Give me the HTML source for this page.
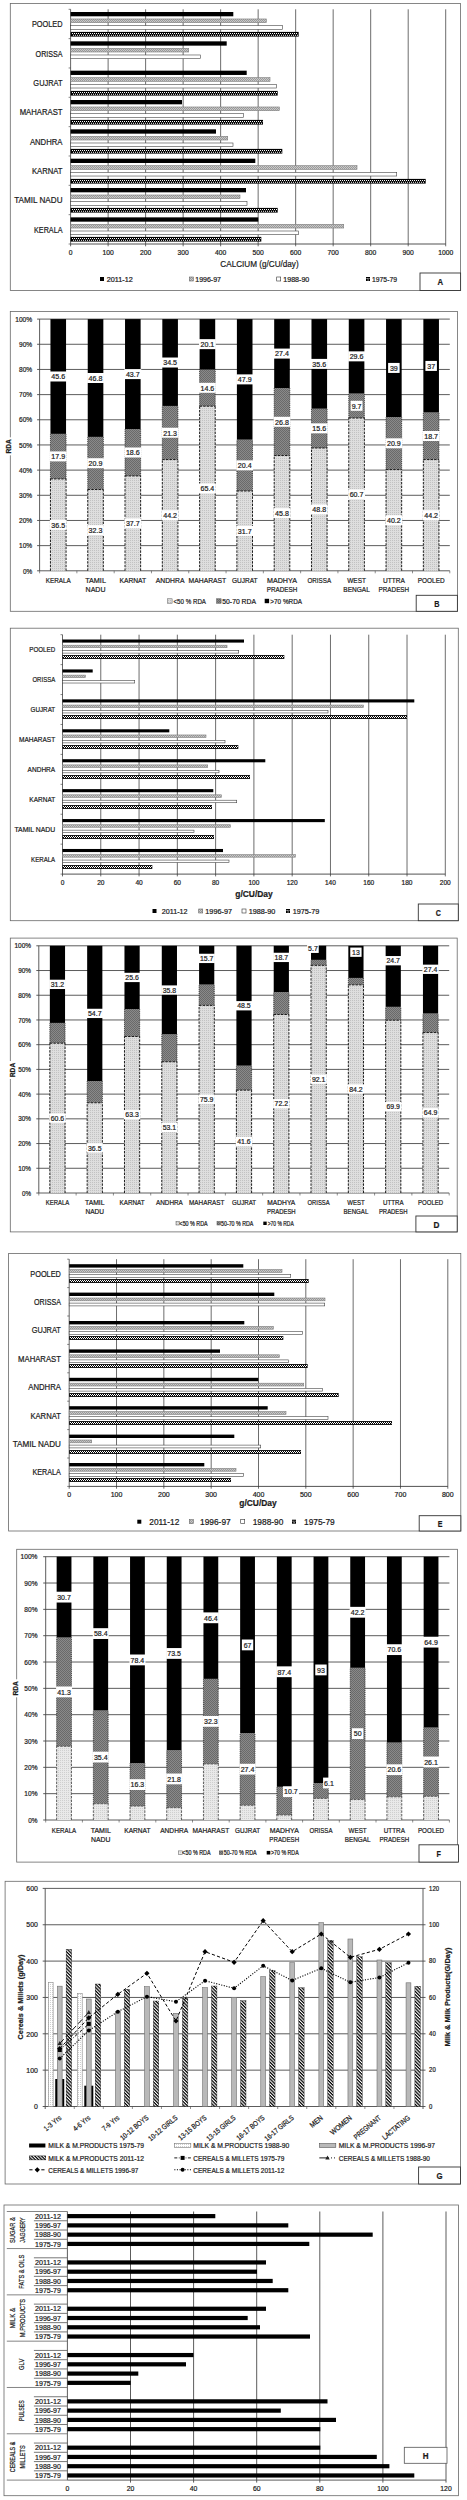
<!DOCTYPE html>
<html lang="en"><head><meta charset="utf-8"><title>Figure panels A-H</title>
<style>html,body{margin:0;padding:0;background:#fff}svg{display:block}text{font-family:"Liberation Sans",sans-serif;stroke:#1a1a1a;stroke-width:.22px}</style>
</head><body>
<svg width="467" height="2500" viewBox="0 0 467 2500">
<defs>
<pattern id="pg" width="2" height="2" patternUnits="userSpaceOnUse"><rect width="2" height="2" fill="#c9c9c9"/><rect width="1" height="1" fill="#9a9a9a"/><rect x="1" y="1" width="1" height="1" fill="#9a9a9a"/></pattern>
<pattern id="pl" width="2" height="2" patternUnits="userSpaceOnUse"><rect width="2" height="2" fill="#dedede"/><rect width="1" height="1" fill="#c2c2c2"/></pattern>
<pattern id="pf" width="2" height="2" patternUnits="userSpaceOnUse"><rect width="2" height="2" fill="#e9e9e9"/><rect width="1" height="1" fill="#cfcfcf"/></pattern>
<pattern id="pm" width="2" height="2" patternUnits="userSpaceOnUse"><rect width="2" height="2" fill="#8a8a8a"/><rect width="1" height="1" fill="#6a6a6a"/><rect x="1" y="1" width="1" height="1" fill="#6a6a6a"/></pattern>
<pattern id="ph" width="2.35" height="2.35" patternUnits="userSpaceOnUse" patternTransform="rotate(45)"><rect width="2.35" height="2.35" fill="#fff"/><rect width="2.35" height="1.25" fill="#000"/></pattern>
<pattern id="pw" width="2" height="2" patternUnits="userSpaceOnUse"><rect width="2" height="2" fill="#fff"/><rect width="1" height="1" fill="#d0d0d0"/></pattern>
</defs>
<rect width="467" height="2500" fill="#fff"/>
<g>
<rect x="10.3" y="3.4" width="450.3" height="287.1" fill="#fff" stroke="#686868" stroke-width="0.8"/>
<line x1="70.6" y1="9.3" x2="70.6" y2="246.3" stroke="#333" stroke-width="0.75"/>
<text x="68.72" y="255.33" font-size="7.4" textLength="3.75" lengthAdjust="spacingAndGlyphs" fill="#1a1a1a">0</text>
<line x1="108.11" y1="9.3" x2="108.11" y2="246.3" stroke="#3c3c3c" stroke-width="0.75"/>
<text x="102.48" y="255.33" font-size="7.4" textLength="11.26" lengthAdjust="spacingAndGlyphs" fill="#1a1a1a">100</text>
<line x1="145.62" y1="9.3" x2="145.62" y2="246.3" stroke="#3c3c3c" stroke-width="0.75"/>
<text x="139.99" y="255.33" font-size="7.4" textLength="11.26" lengthAdjust="spacingAndGlyphs" fill="#1a1a1a">200</text>
<line x1="183.13" y1="9.3" x2="183.13" y2="246.3" stroke="#3c3c3c" stroke-width="0.75"/>
<text x="177.5" y="255.33" font-size="7.4" textLength="11.26" lengthAdjust="spacingAndGlyphs" fill="#1a1a1a">300</text>
<line x1="220.64" y1="9.3" x2="220.64" y2="246.3" stroke="#3c3c3c" stroke-width="0.75"/>
<text x="215.01" y="255.33" font-size="7.4" textLength="11.26" lengthAdjust="spacingAndGlyphs" fill="#1a1a1a">400</text>
<line x1="258.15" y1="9.3" x2="258.15" y2="246.3" stroke="#3c3c3c" stroke-width="0.75"/>
<text x="252.52" y="255.33" font-size="7.4" textLength="11.26" lengthAdjust="spacingAndGlyphs" fill="#1a1a1a">500</text>
<line x1="295.66" y1="9.3" x2="295.66" y2="246.3" stroke="#3c3c3c" stroke-width="0.75"/>
<text x="290.03" y="255.33" font-size="7.4" textLength="11.26" lengthAdjust="spacingAndGlyphs" fill="#1a1a1a">600</text>
<line x1="333.17" y1="9.3" x2="333.17" y2="246.3" stroke="#3c3c3c" stroke-width="0.75"/>
<text x="327.54" y="255.33" font-size="7.4" textLength="11.26" lengthAdjust="spacingAndGlyphs" fill="#1a1a1a">700</text>
<line x1="370.68" y1="9.3" x2="370.68" y2="246.3" stroke="#3c3c3c" stroke-width="0.75"/>
<text x="365.05" y="255.33" font-size="7.4" textLength="11.26" lengthAdjust="spacingAndGlyphs" fill="#1a1a1a">800</text>
<line x1="408.19" y1="9.3" x2="408.19" y2="246.3" stroke="#3c3c3c" stroke-width="0.75"/>
<text x="402.56" y="255.33" font-size="7.4" textLength="11.26" lengthAdjust="spacingAndGlyphs" fill="#1a1a1a">900</text>
<line x1="445.7" y1="9.3" x2="445.7" y2="246.3" stroke="#3c3c3c" stroke-width="0.75"/>
<text x="438.2" y="255.33" font-size="7.4" textLength="15.01" lengthAdjust="spacingAndGlyphs" fill="#1a1a1a">1000</text>
<line x1="70.6" y1="244" x2="445.7" y2="244" stroke="#333" stroke-width="0.85"/>
<line x1="68.6" y1="9.3" x2="70.6" y2="9.3" stroke="#333" stroke-width="0.6"/>
<line x1="68.6" y1="38.64" x2="70.6" y2="38.64" stroke="#333" stroke-width="0.6"/>
<line x1="68.6" y1="67.97" x2="70.6" y2="67.97" stroke="#333" stroke-width="0.6"/>
<line x1="68.6" y1="97.31" x2="70.6" y2="97.31" stroke="#333" stroke-width="0.6"/>
<line x1="68.6" y1="126.65" x2="70.6" y2="126.65" stroke="#333" stroke-width="0.6"/>
<line x1="68.6" y1="155.99" x2="70.6" y2="155.99" stroke="#333" stroke-width="0.6"/>
<line x1="68.6" y1="185.32" x2="70.6" y2="185.32" stroke="#333" stroke-width="0.6"/>
<line x1="68.6" y1="214.66" x2="70.6" y2="214.66" stroke="#333" stroke-width="0.6"/>
<line x1="68.6" y1="244" x2="70.6" y2="244" stroke="#333" stroke-width="0.6"/>
<text x="31.89" y="27.2" font-size="9.1" textLength="30.61" lengthAdjust="spacingAndGlyphs" fill="#1a1a1a">POOLED</text>
<rect x="70.6" y="12" width="162.7" height="4.3" fill="#000"/>
<rect x="70.6" y="18.97" width="195.7" height="3.7" fill="url(#pg)" stroke="#7d7d7d" stroke-width="0.6"/>
<rect x="70.6" y="25.64" width="211.8" height="3.7" fill="#fff" stroke="#444" stroke-width="0.6"/>
<rect x="70.6" y="31.9" width="228.1" height="4.7" fill="#000"/>
<path d="M72 33.45H298.1 M73 35.3H298.1" stroke="#fff" stroke-width="1.1" stroke-dasharray="1 1" fill="none"/>
<text x="35.62" y="56.54" font-size="9.1" textLength="26.88" lengthAdjust="spacingAndGlyphs" fill="#1a1a1a">ORISSA</text>
<rect x="70.6" y="41.34" width="156.1" height="4.3" fill="#000"/>
<rect x="70.6" y="48.31" width="118.1" height="3.7" fill="url(#pg)" stroke="#7d7d7d" stroke-width="0.6"/>
<rect x="70.6" y="54.98" width="129.8" height="3.7" fill="#fff" stroke="#444" stroke-width="0.6"/>
<text x="33.37" y="85.87" font-size="9.1" textLength="29.13" lengthAdjust="spacingAndGlyphs" fill="#1a1a1a">GUJRAT</text>
<rect x="70.6" y="70.67" width="176.1" height="4.3" fill="#000"/>
<rect x="70.6" y="77.64" width="199.4" height="3.7" fill="url(#pg)" stroke="#7d7d7d" stroke-width="0.6"/>
<rect x="70.6" y="84.31" width="205.8" height="3.7" fill="#fff" stroke="#444" stroke-width="0.6"/>
<rect x="70.6" y="90.9" width="207.1" height="4.7" fill="#000"/>
<path d="M72 92.45H277.1 M73 94.3H277.1" stroke="#fff" stroke-width="1.1" stroke-dasharray="1 1" fill="none"/>
<text x="19.69" y="115.21" font-size="9.1" textLength="42.81" lengthAdjust="spacingAndGlyphs" fill="#1a1a1a">MAHARAST</text>
<rect x="70.6" y="100.01" width="111.4" height="4.3" fill="#000"/>
<rect x="70.6" y="106.98" width="208.7" height="3.7" fill="url(#pg)" stroke="#7d7d7d" stroke-width="0.6"/>
<rect x="70.6" y="113.65" width="172.8" height="3.7" fill="#fff" stroke="#444" stroke-width="0.6"/>
<rect x="70.6" y="119.9" width="192.4" height="4.7" fill="#000"/>
<path d="M72 121.45H262.4 M73 123.3H262.4" stroke="#fff" stroke-width="1.1" stroke-dasharray="1 1" fill="none"/>
<text x="29.88" y="144.55" font-size="9.1" textLength="32.62" lengthAdjust="spacingAndGlyphs" fill="#1a1a1a">ANDHRA</text>
<rect x="70.6" y="129.35" width="145.4" height="4.3" fill="#000"/>
<rect x="70.6" y="136.32" width="157.1" height="3.7" fill="url(#pg)" stroke="#7d7d7d" stroke-width="0.6"/>
<rect x="70.6" y="142.99" width="162.4" height="3.7" fill="#fff" stroke="#444" stroke-width="0.6"/>
<rect x="70.6" y="148.9" width="211.7" height="4.7" fill="#000"/>
<path d="M72 150.45H281.7 M73 152.3H281.7" stroke="#fff" stroke-width="1.1" stroke-dasharray="1 1" fill="none"/>
<text x="31.98" y="173.89" font-size="9.1" textLength="30.52" lengthAdjust="spacingAndGlyphs" fill="#1a1a1a">KARNAT</text>
<rect x="70.6" y="158.69" width="184.7" height="4.3" fill="#000"/>
<rect x="70.6" y="165.66" width="286.4" height="3.7" fill="url(#pg)" stroke="#7d7d7d" stroke-width="0.6"/>
<rect x="70.6" y="172.33" width="326.1" height="3.7" fill="#fff" stroke="#444" stroke-width="0.6"/>
<rect x="70.6" y="178.9" width="355.1" height="4.7" fill="#000"/>
<path d="M72 180.45H425.1 M73 182.3H425.1" stroke="#fff" stroke-width="1.1" stroke-dasharray="1 1" fill="none"/>
<text x="14.26" y="203.22" font-size="9.1" textLength="48.24" lengthAdjust="spacingAndGlyphs" fill="#1a1a1a">TAMIL NADU</text>
<rect x="70.6" y="188.02" width="175.4" height="4.3" fill="#000"/>
<rect x="70.6" y="194.99" width="169.4" height="3.7" fill="url(#pg)" stroke="#7d7d7d" stroke-width="0.6"/>
<rect x="70.6" y="201.66" width="176.4" height="3.7" fill="#fff" stroke="#444" stroke-width="0.6"/>
<rect x="70.6" y="207.9" width="207.1" height="4.7" fill="#000"/>
<path d="M72 209.45H277.1 M73 211.3H277.1" stroke="#fff" stroke-width="1.1" stroke-dasharray="1 1" fill="none"/>
<text x="34.03" y="232.56" font-size="9.1" textLength="28.47" lengthAdjust="spacingAndGlyphs" fill="#1a1a1a">KERALA</text>
<rect x="70.6" y="217.36" width="187.7" height="4.3" fill="#000"/>
<rect x="70.6" y="224.33" width="273.1" height="3.7" fill="url(#pg)" stroke="#7d7d7d" stroke-width="0.6"/>
<rect x="70.6" y="231" width="227.8" height="3.7" fill="#fff" stroke="#444" stroke-width="0.6"/>
<rect x="70.6" y="236.9" width="190.7" height="4.7" fill="#000"/>
<path d="M72 238.45H260.7 M73 240.3H260.7" stroke="#fff" stroke-width="1.1" stroke-dasharray="1 1" fill="none"/>
<text x="220.35" y="266.57" font-size="9.2" textLength="78.3" lengthAdjust="spacingAndGlyphs" fill="#1a1a1a">CALCIUM (g/CU/day)</text>
<rect x="100" y="277" width="4" height="4" fill="#000"/>
<text x="106.7" y="281.7" font-size="7.6" textLength="26" lengthAdjust="spacingAndGlyphs" fill="#1a1a1a">2011-12</text>
<rect x="189.3" y="277" width="4" height="4" fill="url(#pg)" stroke="#666" stroke-width="0.6"/>
<text x="195.3" y="281.7" font-size="7.6" textLength="25.7" lengthAdjust="spacingAndGlyphs" fill="#1a1a1a">1996-97</text>
<rect x="276.7" y="277" width="4" height="4" fill="#fff" stroke="#333" stroke-width="0.6"/>
<text x="283.3" y="281.7" font-size="7.6" textLength="26" lengthAdjust="spacingAndGlyphs" fill="#1a1a1a">1988-90</text>
<rect x="366" y="277" width="4" height="4" fill="#000"/>
<path d="M366.6 278.5h2.8 M367.6 280h1.8" stroke="#fff" stroke-width="1" stroke-dasharray="1 1" fill="none"/>
<text x="372" y="281.7" font-size="7.6" textLength="25" lengthAdjust="spacingAndGlyphs" fill="#1a1a1a">1975-79</text>
<rect x="420" y="273" width="40.6" height="17.5" fill="#fff" stroke="#333" stroke-width="0.9"/>
<text x="437.51" y="285.35" font-size="9.3" font-weight="bold" textLength="5.57" lengthAdjust="spacingAndGlyphs" fill="#1a1a1a">A</text>
</g>
<g>
<rect x="10.3" y="311.5" width="447.1" height="299.8" fill="#fff" stroke="#686868" stroke-width="0.8"/>
<line x1="37.1" y1="570.8" x2="449.8" y2="570.8" stroke="#4a4a4a" stroke-width="0.9"/>
<text x="22.91" y="573.5" font-size="7.6" textLength="9.29" lengthAdjust="spacingAndGlyphs" fill="#1a1a1a">0%</text>
<line x1="37.1" y1="545.63" x2="449.8" y2="545.63" stroke="#4a4a4a" stroke-width="0.9"/>
<text x="19.06" y="548.33" font-size="7.6" textLength="13.14" lengthAdjust="spacingAndGlyphs" fill="#1a1a1a">10%</text>
<line x1="37.1" y1="520.46" x2="449.8" y2="520.46" stroke="#4a4a4a" stroke-width="0.9"/>
<text x="19.06" y="523.16" font-size="7.6" textLength="13.14" lengthAdjust="spacingAndGlyphs" fill="#1a1a1a">20%</text>
<line x1="37.1" y1="495.29" x2="449.8" y2="495.29" stroke="#4a4a4a" stroke-width="0.9"/>
<text x="19.06" y="497.99" font-size="7.6" textLength="13.14" lengthAdjust="spacingAndGlyphs" fill="#1a1a1a">30%</text>
<line x1="37.1" y1="470.12" x2="449.8" y2="470.12" stroke="#4a4a4a" stroke-width="0.9"/>
<text x="19.06" y="472.82" font-size="7.6" textLength="13.14" lengthAdjust="spacingAndGlyphs" fill="#1a1a1a">40%</text>
<line x1="37.1" y1="444.95" x2="449.8" y2="444.95" stroke="#4a4a4a" stroke-width="0.9"/>
<text x="19.06" y="447.65" font-size="7.6" textLength="13.14" lengthAdjust="spacingAndGlyphs" fill="#1a1a1a">50%</text>
<line x1="37.1" y1="419.78" x2="449.8" y2="419.78" stroke="#4a4a4a" stroke-width="0.9"/>
<text x="19.06" y="422.48" font-size="7.6" textLength="13.14" lengthAdjust="spacingAndGlyphs" fill="#1a1a1a">60%</text>
<line x1="37.1" y1="394.61" x2="449.8" y2="394.61" stroke="#4a4a4a" stroke-width="0.9"/>
<text x="19.06" y="397.31" font-size="7.6" textLength="13.14" lengthAdjust="spacingAndGlyphs" fill="#1a1a1a">70%</text>
<line x1="37.1" y1="369.44" x2="449.8" y2="369.44" stroke="#4a4a4a" stroke-width="0.9"/>
<text x="19.06" y="372.14" font-size="7.6" textLength="13.14" lengthAdjust="spacingAndGlyphs" fill="#1a1a1a">80%</text>
<line x1="37.1" y1="344.27" x2="449.8" y2="344.27" stroke="#4a4a4a" stroke-width="0.9"/>
<text x="19.06" y="346.97" font-size="7.6" textLength="13.14" lengthAdjust="spacingAndGlyphs" fill="#1a1a1a">90%</text>
<line x1="37.1" y1="319.1" x2="449.8" y2="319.1" stroke="#4a4a4a" stroke-width="0.9"/>
<text x="15.21" y="321.8" font-size="7.6" textLength="16.99" lengthAdjust="spacingAndGlyphs" fill="#1a1a1a">100%</text>
<line x1="39.6" y1="319.1" x2="39.6" y2="570.8" stroke="#4a4a4a" stroke-width="0.9"/>
<line x1="39.6" y1="570.8" x2="39.6" y2="573.3" stroke="#444" stroke-width="0.6"/>
<line x1="76.89" y1="570.8" x2="76.89" y2="573.3" stroke="#444" stroke-width="0.6"/>
<line x1="114.18" y1="570.8" x2="114.18" y2="573.3" stroke="#444" stroke-width="0.6"/>
<line x1="151.47" y1="570.8" x2="151.47" y2="573.3" stroke="#444" stroke-width="0.6"/>
<line x1="188.76" y1="570.8" x2="188.76" y2="573.3" stroke="#444" stroke-width="0.6"/>
<line x1="226.05" y1="570.8" x2="226.05" y2="573.3" stroke="#444" stroke-width="0.6"/>
<line x1="263.35" y1="570.8" x2="263.35" y2="573.3" stroke="#444" stroke-width="0.6"/>
<line x1="300.64" y1="570.8" x2="300.64" y2="573.3" stroke="#444" stroke-width="0.6"/>
<line x1="337.93" y1="570.8" x2="337.93" y2="573.3" stroke="#444" stroke-width="0.6"/>
<line x1="375.22" y1="570.8" x2="375.22" y2="573.3" stroke="#444" stroke-width="0.6"/>
<line x1="412.51" y1="570.8" x2="412.51" y2="573.3" stroke="#444" stroke-width="0.6"/>
<line x1="449.8" y1="570.8" x2="449.8" y2="573.3" stroke="#444" stroke-width="0.6"/>
<rect x="50.45" y="478.93" width="15.6" height="91.87" fill="url(#pl)"/>
<rect x="50.45" y="433.88" width="15.6" height="45.05" fill="url(#pm)"/>
<path d="M50.45 570.8V478.93M66.05 570.8V478.93M50.45 478.93H66.05" fill="none" stroke="#111" stroke-width="0.95" stroke-dasharray="2.4 1.2"/>
<path d="M50.45 478.93V433.88M66.05 478.93V433.88" fill="none" stroke="#222" stroke-width="0.8" stroke-dasharray="1 0.9"/>
<rect x="50.45" y="319.1" width="15.6" height="114.78" fill="#000"/>
<rect x="49.85" y="519.86" width="16.8" height="10" fill="#fff"/>
<text x="51.33" y="527.63" font-size="7.8" textLength="13.83" lengthAdjust="spacingAndGlyphs" fill="#1a1a1a">36.5</text>
<rect x="49.85" y="451.4" width="16.8" height="10" fill="#fff"/>
<text x="51.33" y="459.17" font-size="7.8" textLength="13.83" lengthAdjust="spacingAndGlyphs" fill="#1a1a1a">17.9</text>
<rect x="49.85" y="371.49" width="16.8" height="10" fill="#fff"/>
<text x="51.33" y="379.26" font-size="7.8" textLength="13.83" lengthAdjust="spacingAndGlyphs" fill="#1a1a1a">45.6</text>
<text x="45.73" y="582.84" font-size="8" textLength="25.03" lengthAdjust="spacingAndGlyphs" fill="#1a1a1a">KERALA</text>
<rect x="87.74" y="489.5" width="15.6" height="81.3" fill="url(#pl)"/>
<rect x="87.74" y="436.9" width="15.6" height="52.61" fill="url(#pm)"/>
<path d="M87.74 570.8V489.5M103.34 570.8V489.5M87.74 489.5H103.34" fill="none" stroke="#111" stroke-width="0.95" stroke-dasharray="2.4 1.2"/>
<path d="M87.74 489.5V436.9M103.34 489.5V436.9" fill="none" stroke="#222" stroke-width="0.8" stroke-dasharray="1 0.9"/>
<rect x="87.74" y="319.1" width="15.6" height="117.8" fill="#000"/>
<rect x="87.14" y="525.15" width="16.8" height="10" fill="#fff"/>
<text x="88.62" y="532.92" font-size="7.8" textLength="13.83" lengthAdjust="spacingAndGlyphs" fill="#1a1a1a">32.3</text>
<rect x="87.14" y="458.2" width="16.8" height="10" fill="#fff"/>
<text x="88.62" y="465.97" font-size="7.8" textLength="13.83" lengthAdjust="spacingAndGlyphs" fill="#1a1a1a">20.9</text>
<rect x="87.14" y="373" width="16.8" height="10" fill="#fff"/>
<text x="88.62" y="380.77" font-size="7.8" textLength="13.83" lengthAdjust="spacingAndGlyphs" fill="#1a1a1a">46.8</text>
<text x="85.16" y="582.84" font-size="8" textLength="20.74" lengthAdjust="spacingAndGlyphs" fill="#1a1a1a">TAMIL</text>
<text x="85.61" y="591.64" font-size="8" textLength="19.86" lengthAdjust="spacingAndGlyphs" fill="#1a1a1a">NADU</text>
<rect x="125.03" y="475.91" width="15.6" height="94.89" fill="url(#pl)"/>
<rect x="125.03" y="429.09" width="15.6" height="46.82" fill="url(#pm)"/>
<path d="M125.03 570.8V475.91M140.63 570.8V475.91M125.03 475.91H140.63" fill="none" stroke="#111" stroke-width="0.95" stroke-dasharray="2.4 1.2"/>
<path d="M125.03 475.91V429.09M140.63 475.91V429.09" fill="none" stroke="#222" stroke-width="0.8" stroke-dasharray="1 0.9"/>
<rect x="125.03" y="319.1" width="15.6" height="109.99" fill="#000"/>
<rect x="124.43" y="518.35" width="16.8" height="10" fill="#fff"/>
<text x="125.91" y="526.12" font-size="7.8" textLength="13.83" lengthAdjust="spacingAndGlyphs" fill="#1a1a1a">37.7</text>
<rect x="124.43" y="447.5" width="16.8" height="10" fill="#fff"/>
<text x="125.91" y="455.27" font-size="7.8" textLength="13.83" lengthAdjust="spacingAndGlyphs" fill="#1a1a1a">18.6</text>
<rect x="124.43" y="369.1" width="16.8" height="10" fill="#fff"/>
<text x="125.91" y="376.87" font-size="7.8" textLength="13.83" lengthAdjust="spacingAndGlyphs" fill="#1a1a1a">43.7</text>
<text x="119.41" y="582.84" font-size="8" textLength="26.83" lengthAdjust="spacingAndGlyphs" fill="#1a1a1a">KARNAT</text>
<rect x="162.32" y="459.55" width="15.6" height="111.25" fill="url(#pl)"/>
<rect x="162.32" y="405.94" width="15.6" height="53.61" fill="url(#pm)"/>
<path d="M162.32 570.8V459.55M177.92 570.8V459.55M162.32 459.55H177.92" fill="none" stroke="#111" stroke-width="0.95" stroke-dasharray="2.4 1.2"/>
<path d="M162.32 459.55V405.94M177.92 459.55V405.94" fill="none" stroke="#222" stroke-width="0.8" stroke-dasharray="1 0.9"/>
<rect x="162.32" y="319.1" width="15.6" height="86.84" fill="#000"/>
<rect x="161.72" y="510.17" width="16.8" height="10" fill="#fff"/>
<text x="163.2" y="517.94" font-size="7.8" textLength="13.83" lengthAdjust="spacingAndGlyphs" fill="#1a1a1a">44.2</text>
<rect x="161.72" y="427.74" width="16.8" height="10" fill="#fff"/>
<text x="163.2" y="435.51" font-size="7.8" textLength="13.83" lengthAdjust="spacingAndGlyphs" fill="#1a1a1a">21.3</text>
<rect x="161.72" y="357.52" width="16.8" height="10" fill="#fff"/>
<text x="163.2" y="365.29" font-size="7.8" textLength="13.83" lengthAdjust="spacingAndGlyphs" fill="#1a1a1a">34.5</text>
<text x="155.78" y="582.84" font-size="8" textLength="28.68" lengthAdjust="spacingAndGlyphs" fill="#1a1a1a">ANDHRA</text>
<rect x="199.61" y="406.19" width="15.6" height="164.61" fill="url(#pl)"/>
<rect x="199.61" y="369.44" width="15.6" height="36.75" fill="url(#pm)"/>
<path d="M199.61 570.8V406.19M215.21 570.8V406.19M199.61 406.19H215.21" fill="none" stroke="#111" stroke-width="0.95" stroke-dasharray="2.4 1.2"/>
<path d="M199.61 406.19V369.44M215.21 406.19V369.44" fill="none" stroke="#222" stroke-width="0.8" stroke-dasharray="1 0.9"/>
<rect x="199.61" y="319.1" width="15.6" height="50.34" fill="#000"/>
<rect x="199.01" y="483.49" width="16.8" height="10" fill="#fff"/>
<text x="200.49" y="491.26" font-size="7.8" textLength="13.83" lengthAdjust="spacingAndGlyphs" fill="#1a1a1a">65.4</text>
<rect x="199.01" y="382.81" width="16.8" height="10" fill="#fff"/>
<text x="200.49" y="390.58" font-size="7.8" textLength="13.83" lengthAdjust="spacingAndGlyphs" fill="#1a1a1a">14.6</text>
<rect x="199.01" y="339.14" width="16.8" height="10" fill="#fff"/>
<text x="200.49" y="346.91" font-size="7.8" textLength="13.83" lengthAdjust="spacingAndGlyphs" fill="#1a1a1a">20.1</text>
<text x="188.59" y="582.84" font-size="8" textLength="37.63" lengthAdjust="spacingAndGlyphs" fill="#1a1a1a">MAHARAST</text>
<rect x="236.9" y="491.01" width="15.6" height="79.79" fill="url(#pl)"/>
<rect x="236.9" y="439.66" width="15.6" height="51.35" fill="url(#pm)"/>
<path d="M236.9 570.8V491.01M252.5 570.8V491.01M236.9 491.01H252.5" fill="none" stroke="#111" stroke-width="0.95" stroke-dasharray="2.4 1.2"/>
<path d="M236.9 491.01V439.66M252.5 491.01V439.66" fill="none" stroke="#222" stroke-width="0.8" stroke-dasharray="1 0.9"/>
<rect x="236.9" y="319.1" width="15.6" height="120.56" fill="#000"/>
<rect x="236.3" y="525.91" width="16.8" height="10" fill="#fff"/>
<text x="237.79" y="533.67" font-size="7.8" textLength="13.83" lengthAdjust="spacingAndGlyphs" fill="#1a1a1a">31.7</text>
<rect x="236.3" y="460.34" width="16.8" height="10" fill="#fff"/>
<text x="237.79" y="468.11" font-size="7.8" textLength="13.83" lengthAdjust="spacingAndGlyphs" fill="#1a1a1a">20.4</text>
<rect x="236.3" y="374.38" width="16.8" height="10" fill="#fff"/>
<text x="237.79" y="382.15" font-size="7.8" textLength="13.83" lengthAdjust="spacingAndGlyphs" fill="#1a1a1a">47.9</text>
<text x="231.9" y="582.84" font-size="8" textLength="25.61" lengthAdjust="spacingAndGlyphs" fill="#1a1a1a">GUJRAT</text>
<rect x="274.19" y="455.52" width="15.6" height="115.28" fill="url(#pl)"/>
<rect x="274.19" y="388.07" width="15.6" height="67.46" fill="url(#pm)"/>
<path d="M274.19 570.8V455.52M289.79 570.8V455.52M274.19 455.52H289.79" fill="none" stroke="#111" stroke-width="0.95" stroke-dasharray="2.4 1.2"/>
<path d="M274.19 455.52V388.07M289.79 455.52V388.07" fill="none" stroke="#222" stroke-width="0.8" stroke-dasharray="1 0.9"/>
<rect x="274.19" y="319.1" width="15.6" height="68.97" fill="#000"/>
<rect x="273.59" y="508.16" width="16.8" height="10" fill="#fff"/>
<text x="275.08" y="515.93" font-size="7.8" textLength="13.83" lengthAdjust="spacingAndGlyphs" fill="#1a1a1a">45.8</text>
<rect x="273.59" y="416.79" width="16.8" height="10" fill="#fff"/>
<text x="275.08" y="424.56" font-size="7.8" textLength="13.83" lengthAdjust="spacingAndGlyphs" fill="#1a1a1a">26.8</text>
<rect x="273.59" y="348.58" width="16.8" height="10" fill="#fff"/>
<text x="275.08" y="356.35" font-size="7.8" textLength="13.83" lengthAdjust="spacingAndGlyphs" fill="#1a1a1a">27.4</text>
<text x="267.04" y="582.84" font-size="8" textLength="29.9" lengthAdjust="spacingAndGlyphs" fill="#1a1a1a">MADHYA</text>
<text x="266.69" y="591.64" font-size="8" textLength="30.59" lengthAdjust="spacingAndGlyphs" fill="#1a1a1a">PRADESH</text>
<rect x="311.48" y="447.97" width="15.6" height="122.83" fill="url(#pl)"/>
<rect x="311.48" y="408.71" width="15.6" height="39.27" fill="url(#pm)"/>
<path d="M311.48 570.8V447.97M327.08 570.8V447.97M311.48 447.97H327.08" fill="none" stroke="#111" stroke-width="0.95" stroke-dasharray="2.4 1.2"/>
<path d="M311.48 447.97V408.71M327.08 447.97V408.71" fill="none" stroke="#222" stroke-width="0.8" stroke-dasharray="1 0.9"/>
<rect x="311.48" y="319.1" width="15.6" height="89.61" fill="#000"/>
<rect x="310.88" y="504.39" width="16.8" height="10" fill="#fff"/>
<text x="312.37" y="512.15" font-size="7.8" textLength="13.83" lengthAdjust="spacingAndGlyphs" fill="#1a1a1a">48.8</text>
<rect x="310.88" y="423.34" width="16.8" height="10" fill="#fff"/>
<text x="312.37" y="431.11" font-size="7.8" textLength="13.83" lengthAdjust="spacingAndGlyphs" fill="#1a1a1a">15.6</text>
<rect x="310.88" y="358.9" width="16.8" height="10" fill="#fff"/>
<text x="312.37" y="366.67" font-size="7.8" textLength="13.83" lengthAdjust="spacingAndGlyphs" fill="#1a1a1a">35.6</text>
<text x="307.47" y="582.84" font-size="8" textLength="23.63" lengthAdjust="spacingAndGlyphs" fill="#1a1a1a">ORISSA</text>
<rect x="348.77" y="418.02" width="15.6" height="152.78" fill="url(#pl)"/>
<rect x="348.77" y="393.6" width="15.6" height="24.41" fill="url(#pm)"/>
<path d="M348.77 570.8V418.02M364.37 570.8V418.02M348.77 418.02H364.37" fill="none" stroke="#111" stroke-width="0.95" stroke-dasharray="2.4 1.2"/>
<path d="M348.77 418.02V393.6M364.37 418.02V393.6" fill="none" stroke="#222" stroke-width="0.8" stroke-dasharray="1 0.9"/>
<rect x="348.77" y="319.1" width="15.6" height="74.5" fill="#000"/>
<rect x="348.17" y="489.41" width="16.8" height="10" fill="#fff"/>
<text x="349.66" y="497.18" font-size="7.8" textLength="13.83" lengthAdjust="spacingAndGlyphs" fill="#1a1a1a">60.7</text>
<rect x="350.64" y="400.81" width="11.87" height="10" fill="#fff"/>
<text x="351.64" y="408.58" font-size="7.8" textLength="9.87" lengthAdjust="spacingAndGlyphs" fill="#1a1a1a">9.7</text>
<rect x="348.17" y="351.35" width="16.8" height="10" fill="#fff"/>
<text x="349.66" y="359.12" font-size="7.8" textLength="13.83" lengthAdjust="spacingAndGlyphs" fill="#1a1a1a">29.6</text>
<text x="347.28" y="582.84" font-size="8" textLength="18.59" lengthAdjust="spacingAndGlyphs" fill="#1a1a1a">WEST</text>
<text x="343.34" y="591.64" font-size="8" textLength="26.46" lengthAdjust="spacingAndGlyphs" fill="#1a1a1a">BENGAL</text>
<rect x="386.06" y="469.62" width="15.6" height="101.18" fill="url(#pl)"/>
<rect x="386.06" y="417.01" width="15.6" height="52.61" fill="url(#pm)"/>
<path d="M386.06 570.8V469.62M401.66 570.8V469.62M386.06 469.62H401.66" fill="none" stroke="#111" stroke-width="0.95" stroke-dasharray="2.4 1.2"/>
<path d="M386.06 469.62V417.01M401.66 469.62V417.01" fill="none" stroke="#222" stroke-width="0.8" stroke-dasharray="1 0.9"/>
<rect x="386.06" y="319.1" width="15.6" height="97.91" fill="#000"/>
<rect x="385.46" y="515.21" width="16.8" height="10" fill="#fff"/>
<text x="386.95" y="522.98" font-size="7.8" textLength="13.83" lengthAdjust="spacingAndGlyphs" fill="#1a1a1a">40.2</text>
<rect x="385.46" y="438.31" width="16.8" height="10" fill="#fff"/>
<text x="386.95" y="446.08" font-size="7.8" textLength="13.83" lengthAdjust="spacingAndGlyphs" fill="#1a1a1a">20.9</text>
<rect x="388.11" y="362.93" width="11.51" height="10" fill="#fff"/>
<text x="389.91" y="370.7" font-size="7.8" textLength="7.91" lengthAdjust="spacingAndGlyphs" fill="#1a1a1a">39</text>
<text x="382.91" y="582.84" font-size="8" textLength="21.9" lengthAdjust="spacingAndGlyphs" fill="#1a1a1a">UTTRA</text>
<text x="378.57" y="591.64" font-size="8" textLength="30.59" lengthAdjust="spacingAndGlyphs" fill="#1a1a1a">PRADESH</text>
<rect x="423.35" y="459.55" width="15.6" height="111.25" fill="url(#pl)"/>
<rect x="423.35" y="412.48" width="15.6" height="47.07" fill="url(#pm)"/>
<path d="M423.35 570.8V459.55M438.95 570.8V459.55M423.35 459.55H438.95" fill="none" stroke="#111" stroke-width="0.95" stroke-dasharray="2.4 1.2"/>
<path d="M423.35 459.55V412.48M438.95 459.55V412.48" fill="none" stroke="#222" stroke-width="0.8" stroke-dasharray="1 0.9"/>
<rect x="423.35" y="319.1" width="15.6" height="93.38" fill="#000"/>
<rect x="422.75" y="510.17" width="16.8" height="10" fill="#fff"/>
<text x="424.24" y="517.94" font-size="7.8" textLength="13.83" lengthAdjust="spacingAndGlyphs" fill="#1a1a1a">44.2</text>
<rect x="422.75" y="431.01" width="16.8" height="10" fill="#fff"/>
<text x="424.24" y="438.78" font-size="7.8" textLength="13.83" lengthAdjust="spacingAndGlyphs" fill="#1a1a1a">18.7</text>
<rect x="425.4" y="360.92" width="11.51" height="10" fill="#fff"/>
<text x="427.2" y="368.69" font-size="7.8" textLength="7.91" lengthAdjust="spacingAndGlyphs" fill="#1a1a1a">37</text>
<text x="417.7" y="582.84" font-size="8" textLength="26.91" lengthAdjust="spacingAndGlyphs" fill="#1a1a1a">POOLED</text>
<rect x="4.5" y="437.3" width="8" height="18" fill="#fff"/>
<text x="1.31" y="449.14" font-size="8" font-weight="bold" textLength="14.38" lengthAdjust="spacingAndGlyphs" fill="#1a1a1a" transform="rotate(-90 8.5 446.3)">RDA</text>
<rect x="167.7" y="598.8" width="4.4" height="4.4" fill="url(#pl)" stroke="#555" stroke-width="0.5"/>
<text x="173.5" y="603.63" font-size="7.4" textLength="32.5" lengthAdjust="spacingAndGlyphs" fill="#1a1a1a">&lt;50 % RDA</text>
<rect x="216.7" y="598.8" width="4.4" height="4.4" fill="url(#pm)" stroke="#444" stroke-width="0.5"/>
<text x="222.3" y="603.63" font-size="7.4" textLength="33.7" lengthAdjust="spacingAndGlyphs" fill="#1a1a1a">50-70 RDA</text>
<rect x="264.7" y="598.8" width="4.4" height="4.4" fill="#000"/>
<text x="270.3" y="603.63" font-size="7.4" textLength="31.7" lengthAdjust="spacingAndGlyphs" fill="#1a1a1a">&gt;70 %RDA</text>
<rect x="416.2" y="595.3" width="41.2" height="16" fill="#fff" stroke="#333" stroke-width="0.9"/>
<text x="434.18" y="606.9" font-size="9.3" font-weight="bold" textLength="5.24" lengthAdjust="spacingAndGlyphs" fill="#1a1a1a">B</text>
</g>
<g>
<rect x="10.3" y="628.2" width="448" height="292.5" fill="#fff" stroke="#686868" stroke-width="0.8"/>
<line x1="62.5" y1="634.7" x2="62.5" y2="876.4" stroke="#333" stroke-width="0.75"/>
<text x="60.67" y="884.86" font-size="7.2" textLength="3.65" lengthAdjust="spacingAndGlyphs" fill="#1a1a1a">0</text>
<line x1="100.78" y1="634.7" x2="100.78" y2="876.4" stroke="#3c3c3c" stroke-width="0.75"/>
<text x="97.13" y="884.86" font-size="7.2" textLength="7.3" lengthAdjust="spacingAndGlyphs" fill="#1a1a1a">20</text>
<line x1="139.06" y1="634.7" x2="139.06" y2="876.4" stroke="#3c3c3c" stroke-width="0.75"/>
<text x="135.41" y="884.86" font-size="7.2" textLength="7.3" lengthAdjust="spacingAndGlyphs" fill="#1a1a1a">40</text>
<line x1="177.34" y1="634.7" x2="177.34" y2="876.4" stroke="#3c3c3c" stroke-width="0.75"/>
<text x="173.69" y="884.86" font-size="7.2" textLength="7.3" lengthAdjust="spacingAndGlyphs" fill="#1a1a1a">60</text>
<line x1="215.62" y1="634.7" x2="215.62" y2="876.4" stroke="#3c3c3c" stroke-width="0.75"/>
<text x="211.97" y="884.86" font-size="7.2" textLength="7.3" lengthAdjust="spacingAndGlyphs" fill="#1a1a1a">80</text>
<line x1="253.9" y1="634.7" x2="253.9" y2="876.4" stroke="#3c3c3c" stroke-width="0.75"/>
<text x="248.42" y="884.86" font-size="7.2" textLength="10.95" lengthAdjust="spacingAndGlyphs" fill="#1a1a1a">100</text>
<line x1="292.18" y1="634.7" x2="292.18" y2="876.4" stroke="#3c3c3c" stroke-width="0.75"/>
<text x="286.7" y="884.86" font-size="7.2" textLength="10.95" lengthAdjust="spacingAndGlyphs" fill="#1a1a1a">120</text>
<line x1="330.46" y1="634.7" x2="330.46" y2="876.4" stroke="#3c3c3c" stroke-width="0.75"/>
<text x="324.98" y="884.86" font-size="7.2" textLength="10.95" lengthAdjust="spacingAndGlyphs" fill="#1a1a1a">140</text>
<line x1="368.74" y1="634.7" x2="368.74" y2="876.4" stroke="#3c3c3c" stroke-width="0.75"/>
<text x="363.26" y="884.86" font-size="7.2" textLength="10.95" lengthAdjust="spacingAndGlyphs" fill="#1a1a1a">160</text>
<line x1="407.02" y1="634.7" x2="407.02" y2="876.4" stroke="#3c3c3c" stroke-width="0.75"/>
<text x="401.54" y="884.86" font-size="7.2" textLength="10.95" lengthAdjust="spacingAndGlyphs" fill="#1a1a1a">180</text>
<line x1="445.3" y1="634.7" x2="445.3" y2="876.4" stroke="#3c3c3c" stroke-width="0.75"/>
<text x="439.82" y="884.86" font-size="7.2" textLength="10.95" lengthAdjust="spacingAndGlyphs" fill="#1a1a1a">200</text>
<line x1="62.5" y1="874.1" x2="445.3" y2="874.1" stroke="#333" stroke-width="0.85"/>
<line x1="60.5" y1="634.7" x2="62.5" y2="634.7" stroke="#333" stroke-width="0.6"/>
<line x1="60.5" y1="664.62" x2="62.5" y2="664.62" stroke="#333" stroke-width="0.6"/>
<line x1="60.5" y1="694.55" x2="62.5" y2="694.55" stroke="#333" stroke-width="0.6"/>
<line x1="60.5" y1="724.48" x2="62.5" y2="724.48" stroke="#333" stroke-width="0.6"/>
<line x1="60.5" y1="754.4" x2="62.5" y2="754.4" stroke="#333" stroke-width="0.6"/>
<line x1="60.5" y1="784.33" x2="62.5" y2="784.33" stroke="#333" stroke-width="0.6"/>
<line x1="60.5" y1="814.25" x2="62.5" y2="814.25" stroke="#333" stroke-width="0.6"/>
<line x1="60.5" y1="844.17" x2="62.5" y2="844.17" stroke="#333" stroke-width="0.6"/>
<line x1="60.5" y1="874.1" x2="62.5" y2="874.1" stroke="#333" stroke-width="0.6"/>
<text x="29.3" y="652.4" font-size="7.7" textLength="25.9" lengthAdjust="spacingAndGlyphs" fill="#1a1a1a">POOLED</text>
<rect x="62.5" y="639.5" width="181.5" height="3.1" fill="#000"/>
<rect x="62.5" y="645.2" width="164.5" height="2.5" fill="url(#pg)" stroke="#7d7d7d" stroke-width="0.6"/>
<rect x="62.5" y="650.6" width="176.2" height="2.5" fill="#fff" stroke="#444" stroke-width="0.6"/>
<rect x="62.5" y="655.1" width="221.8" height="3.8" fill="#000"/>
<path d="M63 656.45H283.9 M64 657.55H283.9" stroke="#fff" stroke-width="1.05" stroke-dasharray="1 1" fill="none"/>
<text x="32.45" y="682.32" font-size="7.7" textLength="22.75" lengthAdjust="spacingAndGlyphs" fill="#1a1a1a">ORISSA</text>
<rect x="62.5" y="669.42" width="30.2" height="3.1" fill="#000"/>
<rect x="62.5" y="675.12" width="22.8" height="2.5" fill="url(#pg)" stroke="#7d7d7d" stroke-width="0.6"/>
<rect x="62.5" y="680.52" width="72.2" height="2.5" fill="#fff" stroke="#444" stroke-width="0.6"/>
<text x="30.55" y="712.25" font-size="7.7" textLength="24.65" lengthAdjust="spacingAndGlyphs" fill="#1a1a1a">GUJRAT</text>
<rect x="62.5" y="699.35" width="351.8" height="3.1" fill="#000"/>
<rect x="62.5" y="705.05" width="300.8" height="2.5" fill="url(#pg)" stroke="#7d7d7d" stroke-width="0.6"/>
<rect x="62.5" y="710.45" width="265.5" height="2.5" fill="#fff" stroke="#444" stroke-width="0.6"/>
<rect x="62.5" y="715.1" width="344.5" height="3.8" fill="#000"/>
<path d="M63 716.45H406.6 M64 717.55H406.6" stroke="#fff" stroke-width="1.05" stroke-dasharray="1 1" fill="none"/>
<text x="18.98" y="742.17" font-size="7.7" textLength="36.22" lengthAdjust="spacingAndGlyphs" fill="#1a1a1a">MAHARAST</text>
<rect x="62.5" y="729.27" width="106.8" height="3.1" fill="#000"/>
<rect x="62.5" y="734.97" width="143.5" height="2.5" fill="url(#pg)" stroke="#7d7d7d" stroke-width="0.6"/>
<rect x="62.5" y="740.37" width="162.5" height="2.5" fill="#fff" stroke="#444" stroke-width="0.6"/>
<rect x="62.5" y="745.1" width="175.8" height="3.8" fill="#000"/>
<path d="M63 746.45H237.9 M64 747.55H237.9" stroke="#fff" stroke-width="1.05" stroke-dasharray="1 1" fill="none"/>
<text x="27.6" y="772.1" font-size="7.7" textLength="27.6" lengthAdjust="spacingAndGlyphs" fill="#1a1a1a">ANDHRA</text>
<rect x="62.5" y="759.2" width="202.8" height="3.1" fill="#000"/>
<rect x="62.5" y="764.9" width="145.2" height="2.5" fill="url(#pg)" stroke="#7d7d7d" stroke-width="0.6"/>
<rect x="62.5" y="770.3" width="156.5" height="2.5" fill="#fff" stroke="#444" stroke-width="0.6"/>
<rect x="62.5" y="775.1" width="187.5" height="3.8" fill="#000"/>
<path d="M63 776.45H249.6 M64 777.55H249.6" stroke="#fff" stroke-width="1.05" stroke-dasharray="1 1" fill="none"/>
<text x="29.37" y="802.02" font-size="7.7" textLength="25.83" lengthAdjust="spacingAndGlyphs" fill="#1a1a1a">KARNAT</text>
<rect x="62.5" y="789.12" width="150.8" height="3.1" fill="#000"/>
<rect x="62.5" y="794.82" width="158.8" height="2.5" fill="url(#pg)" stroke="#7d7d7d" stroke-width="0.6"/>
<rect x="62.5" y="800.22" width="174.2" height="2.5" fill="#fff" stroke="#444" stroke-width="0.6"/>
<rect x="62.5" y="805.1" width="149.5" height="3.8" fill="#000"/>
<path d="M63 806.45H211.6 M64 807.55H211.6" stroke="#fff" stroke-width="1.05" stroke-dasharray="1 1" fill="none"/>
<text x="14.38" y="831.95" font-size="7.7" textLength="40.82" lengthAdjust="spacingAndGlyphs" fill="#1a1a1a">TAMIL NADU</text>
<rect x="62.5" y="819.05" width="262.3" height="3.1" fill="#000"/>
<rect x="62.5" y="824.75" width="167.8" height="2.5" fill="url(#pg)" stroke="#7d7d7d" stroke-width="0.6"/>
<rect x="62.5" y="830.15" width="131.5" height="2.5" fill="#fff" stroke="#444" stroke-width="0.6"/>
<rect x="62.5" y="835.1" width="151.5" height="3.8" fill="#000"/>
<path d="M63 836.45H213.6 M64 837.55H213.6" stroke="#fff" stroke-width="1.05" stroke-dasharray="1 1" fill="none"/>
<text x="31.11" y="861.87" font-size="7.7" textLength="24.09" lengthAdjust="spacingAndGlyphs" fill="#1a1a1a">KERALA</text>
<rect x="62.5" y="848.97" width="160.5" height="3.1" fill="#000"/>
<rect x="62.5" y="854.67" width="232.8" height="2.5" fill="url(#pg)" stroke="#7d7d7d" stroke-width="0.6"/>
<rect x="62.5" y="860.07" width="166.5" height="2.5" fill="#fff" stroke="#444" stroke-width="0.6"/>
<rect x="62.5" y="865.1" width="89.8" height="3.8" fill="#000"/>
<path d="M63 866.45H151.9 M64 867.55H151.9" stroke="#fff" stroke-width="1.05" stroke-dasharray="1 1" fill="none"/>
<text x="235.3" y="896.5" font-size="9" font-weight="bold" textLength="37.4" lengthAdjust="spacingAndGlyphs" fill="#1a1a1a">g/CU/Day</text>
<rect x="152.5" y="909" width="4" height="4" fill="#000"/>
<text x="161.8" y="913.73" font-size="7.7" textLength="25.7" lengthAdjust="spacingAndGlyphs" fill="#1a1a1a">2011-12</text>
<rect x="198.7" y="909" width="4" height="4" fill="url(#pg)" stroke="#666" stroke-width="0.6"/>
<text x="205.3" y="913.73" font-size="7.7" textLength="26.7" lengthAdjust="spacingAndGlyphs" fill="#1a1a1a">1996-97</text>
<rect x="242" y="909" width="4" height="4" fill="#fff" stroke="#333" stroke-width="0.6"/>
<text x="248.7" y="913.73" font-size="7.7" textLength="26.7" lengthAdjust="spacingAndGlyphs" fill="#1a1a1a">1988-90</text>
<rect x="286" y="909" width="4" height="4" fill="#000"/>
<path d="M286.6 910.5h2.8 M287.6 912h1.8" stroke="#fff" stroke-width="1" stroke-dasharray="1 1" fill="none"/>
<text x="292.7" y="913.73" font-size="7.7" textLength="26.7" lengthAdjust="spacingAndGlyphs" fill="#1a1a1a">1975-79</text>
<rect x="418.3" y="904" width="40" height="16.7" fill="#fff" stroke="#333" stroke-width="0.9"/>
<text x="435.73" y="915.95" font-size="9.3" font-weight="bold" textLength="5.13" lengthAdjust="spacingAndGlyphs" fill="#1a1a1a">C</text>
</g>
<g>
<rect x="10.3" y="938.1" width="446.9" height="293.8" fill="#fff" stroke="#686868" stroke-width="0.8"/>
<line x1="36.3" y1="1193" x2="449.2" y2="1193" stroke="#4a4a4a" stroke-width="0.9"/>
<text x="21.96" y="1195.63" font-size="7.4" textLength="9.04" lengthAdjust="spacingAndGlyphs" fill="#1a1a1a">0%</text>
<line x1="36.3" y1="1168.28" x2="449.2" y2="1168.28" stroke="#4a4a4a" stroke-width="0.9"/>
<text x="18.21" y="1170.91" font-size="7.4" textLength="12.79" lengthAdjust="spacingAndGlyphs" fill="#1a1a1a">10%</text>
<line x1="36.3" y1="1143.56" x2="449.2" y2="1143.56" stroke="#4a4a4a" stroke-width="0.9"/>
<text x="18.21" y="1146.19" font-size="7.4" textLength="12.79" lengthAdjust="spacingAndGlyphs" fill="#1a1a1a">20%</text>
<line x1="36.3" y1="1118.84" x2="449.2" y2="1118.84" stroke="#4a4a4a" stroke-width="0.9"/>
<text x="18.21" y="1121.47" font-size="7.4" textLength="12.79" lengthAdjust="spacingAndGlyphs" fill="#1a1a1a">30%</text>
<line x1="36.3" y1="1094.12" x2="449.2" y2="1094.12" stroke="#4a4a4a" stroke-width="0.9"/>
<text x="18.21" y="1096.75" font-size="7.4" textLength="12.79" lengthAdjust="spacingAndGlyphs" fill="#1a1a1a">40%</text>
<line x1="36.3" y1="1069.4" x2="449.2" y2="1069.4" stroke="#4a4a4a" stroke-width="0.9"/>
<text x="18.21" y="1072.03" font-size="7.4" textLength="12.79" lengthAdjust="spacingAndGlyphs" fill="#1a1a1a">50%</text>
<line x1="36.3" y1="1044.68" x2="449.2" y2="1044.68" stroke="#4a4a4a" stroke-width="0.9"/>
<text x="18.21" y="1047.31" font-size="7.4" textLength="12.79" lengthAdjust="spacingAndGlyphs" fill="#1a1a1a">60%</text>
<line x1="36.3" y1="1019.96" x2="449.2" y2="1019.96" stroke="#4a4a4a" stroke-width="0.9"/>
<text x="18.21" y="1022.59" font-size="7.4" textLength="12.79" lengthAdjust="spacingAndGlyphs" fill="#1a1a1a">70%</text>
<line x1="36.3" y1="995.24" x2="449.2" y2="995.24" stroke="#4a4a4a" stroke-width="0.9"/>
<text x="18.21" y="997.87" font-size="7.4" textLength="12.79" lengthAdjust="spacingAndGlyphs" fill="#1a1a1a">80%</text>
<line x1="36.3" y1="970.52" x2="449.2" y2="970.52" stroke="#4a4a4a" stroke-width="0.9"/>
<text x="18.21" y="973.15" font-size="7.4" textLength="12.79" lengthAdjust="spacingAndGlyphs" fill="#1a1a1a">90%</text>
<line x1="36.3" y1="945.8" x2="449.2" y2="945.8" stroke="#4a4a4a" stroke-width="0.9"/>
<text x="14.45" y="948.43" font-size="7.4" textLength="16.55" lengthAdjust="spacingAndGlyphs" fill="#1a1a1a">100%</text>
<line x1="38.8" y1="945.8" x2="38.8" y2="1193" stroke="#4a4a4a" stroke-width="0.9"/>
<line x1="38.8" y1="1193" x2="38.8" y2="1195.5" stroke="#444" stroke-width="0.6"/>
<line x1="76.11" y1="1193" x2="76.11" y2="1195.5" stroke="#444" stroke-width="0.6"/>
<line x1="113.42" y1="1193" x2="113.42" y2="1195.5" stroke="#444" stroke-width="0.6"/>
<line x1="150.73" y1="1193" x2="150.73" y2="1195.5" stroke="#444" stroke-width="0.6"/>
<line x1="188.04" y1="1193" x2="188.04" y2="1195.5" stroke="#444" stroke-width="0.6"/>
<line x1="225.35" y1="1193" x2="225.35" y2="1195.5" stroke="#444" stroke-width="0.6"/>
<line x1="262.65" y1="1193" x2="262.65" y2="1195.5" stroke="#444" stroke-width="0.6"/>
<line x1="299.96" y1="1193" x2="299.96" y2="1195.5" stroke="#444" stroke-width="0.6"/>
<line x1="337.27" y1="1193" x2="337.27" y2="1195.5" stroke="#444" stroke-width="0.6"/>
<line x1="374.58" y1="1193" x2="374.58" y2="1195.5" stroke="#444" stroke-width="0.6"/>
<line x1="411.89" y1="1193" x2="411.89" y2="1195.5" stroke="#444" stroke-width="0.6"/>
<line x1="449.2" y1="1193" x2="449.2" y2="1195.5" stroke="#444" stroke-width="0.6"/>
<rect x="49.85" y="1043.2" width="15.2" height="149.8" fill="url(#pl)"/>
<rect x="49.85" y="1022.93" width="15.2" height="20.27" fill="url(#pm)"/>
<path d="M49.85 1193V1043.2M65.05 1193V1043.2M49.85 1043.2H65.05" fill="none" stroke="#111" stroke-width="0.95" stroke-dasharray="2.4 1.2"/>
<path d="M49.85 1043.2V1022.93M65.05 1043.2V1022.93" fill="none" stroke="#222" stroke-width="0.8" stroke-dasharray="1 0.9"/>
<rect x="49.85" y="945.8" width="15.2" height="77.13" fill="#000"/>
<rect x="49.25" y="1113.45" width="16.4" height="9.3" fill="#fff"/>
<text x="50.72" y="1120.8" font-size="7.6" textLength="13.47" lengthAdjust="spacingAndGlyphs" fill="#1a1a1a">60.6</text>
<rect x="49.25" y="979.71" width="16.4" height="9.3" fill="#fff"/>
<text x="50.72" y="987.06" font-size="7.6" textLength="13.47" lengthAdjust="spacingAndGlyphs" fill="#1a1a1a">31.2</text>
<text x="45.72" y="1204.96" font-size="7.5" textLength="23.47" lengthAdjust="spacingAndGlyphs" fill="#1a1a1a">KERALA</text>
<rect x="87.16" y="1102.77" width="15.2" height="90.23" fill="url(#pl)"/>
<rect x="87.16" y="1081.02" width="15.2" height="21.75" fill="url(#pm)"/>
<path d="M87.16 1193V1102.77M102.36 1193V1102.77M87.16 1102.77H102.36" fill="none" stroke="#111" stroke-width="0.95" stroke-dasharray="2.4 1.2"/>
<path d="M87.16 1102.77V1081.02M102.36 1102.77V1081.02" fill="none" stroke="#222" stroke-width="0.8" stroke-dasharray="1 0.9"/>
<rect x="87.16" y="945.8" width="15.2" height="135.22" fill="#000"/>
<rect x="86.56" y="1143.24" width="16.4" height="9.3" fill="#fff"/>
<text x="88.03" y="1150.58" font-size="7.6" textLength="13.47" lengthAdjust="spacingAndGlyphs" fill="#1a1a1a">36.5</text>
<rect x="86.56" y="1008.76" width="16.4" height="9.3" fill="#fff"/>
<text x="88.03" y="1016.11" font-size="7.6" textLength="13.47" lengthAdjust="spacingAndGlyphs" fill="#1a1a1a">54.7</text>
<text x="85.04" y="1204.96" font-size="7.5" textLength="19.45" lengthAdjust="spacingAndGlyphs" fill="#1a1a1a">TAMIL</text>
<text x="85.46" y="1213.76" font-size="7.5" textLength="18.61" lengthAdjust="spacingAndGlyphs" fill="#1a1a1a">NADU</text>
<rect x="124.47" y="1036.52" width="15.2" height="156.48" fill="url(#pl)"/>
<rect x="124.47" y="1009.08" width="15.2" height="27.44" fill="url(#pm)"/>
<path d="M124.47 1193V1036.52M139.67 1193V1036.52M124.47 1036.52H139.67" fill="none" stroke="#111" stroke-width="0.95" stroke-dasharray="2.4 1.2"/>
<path d="M124.47 1036.52V1009.08M139.67 1036.52V1009.08" fill="none" stroke="#222" stroke-width="0.8" stroke-dasharray="1 0.9"/>
<rect x="124.47" y="945.8" width="15.2" height="63.28" fill="#000"/>
<rect x="123.87" y="1110.11" width="16.4" height="9.3" fill="#fff"/>
<text x="125.34" y="1117.46" font-size="7.6" textLength="13.47" lengthAdjust="spacingAndGlyphs" fill="#1a1a1a">63.3</text>
<rect x="123.87" y="972.79" width="16.4" height="9.3" fill="#fff"/>
<text x="125.34" y="980.14" font-size="7.6" textLength="13.47" lengthAdjust="spacingAndGlyphs" fill="#1a1a1a">25.6</text>
<text x="119.5" y="1204.96" font-size="7.5" textLength="25.16" lengthAdjust="spacingAndGlyphs" fill="#1a1a1a">KARNAT</text>
<rect x="161.78" y="1061.74" width="15.2" height="131.26" fill="url(#pl)"/>
<rect x="161.78" y="1034.3" width="15.2" height="27.44" fill="url(#pm)"/>
<path d="M161.78 1193V1061.74M176.98 1193V1061.74M161.78 1061.74H176.98" fill="none" stroke="#111" stroke-width="0.95" stroke-dasharray="2.4 1.2"/>
<path d="M161.78 1061.74V1034.3M176.98 1061.74V1034.3" fill="none" stroke="#222" stroke-width="0.8" stroke-dasharray="1 0.9"/>
<rect x="161.78" y="945.8" width="15.2" height="88.5" fill="#000"/>
<rect x="161.18" y="1122.72" width="16.4" height="9.3" fill="#fff"/>
<text x="162.64" y="1130.07" font-size="7.6" textLength="13.47" lengthAdjust="spacingAndGlyphs" fill="#1a1a1a">53.1</text>
<rect x="161.18" y="985.4" width="16.4" height="9.3" fill="#fff"/>
<text x="162.64" y="992.75" font-size="7.6" textLength="13.47" lengthAdjust="spacingAndGlyphs" fill="#1a1a1a">35.8</text>
<text x="155.94" y="1204.96" font-size="7.5" textLength="26.89" lengthAdjust="spacingAndGlyphs" fill="#1a1a1a">ANDHRA</text>
<rect x="199.09" y="1005.38" width="15.2" height="187.62" fill="url(#pl)"/>
<rect x="199.09" y="984.61" width="15.2" height="20.76" fill="url(#pm)"/>
<path d="M199.09 1193V1005.38M214.29 1193V1005.38M199.09 1005.38H214.29" fill="none" stroke="#111" stroke-width="0.95" stroke-dasharray="2.4 1.2"/>
<path d="M199.09 1005.38V984.61M214.29 1005.38V984.61" fill="none" stroke="#222" stroke-width="0.8" stroke-dasharray="1 0.9"/>
<rect x="199.09" y="945.8" width="15.2" height="38.81" fill="#000"/>
<rect x="198.49" y="1094.54" width="16.4" height="9.3" fill="#fff"/>
<text x="199.95" y="1101.89" font-size="7.6" textLength="13.47" lengthAdjust="spacingAndGlyphs" fill="#1a1a1a">75.9</text>
<rect x="198.49" y="953.75" width="16.4" height="9.3" fill="#fff"/>
<text x="199.95" y="961.1" font-size="7.6" textLength="13.47" lengthAdjust="spacingAndGlyphs" fill="#1a1a1a">15.7</text>
<text x="189.05" y="1204.96" font-size="7.5" textLength="35.28" lengthAdjust="spacingAndGlyphs" fill="#1a1a1a">MAHARAST</text>
<rect x="236.4" y="1090.16" width="15.2" height="102.84" fill="url(#pl)"/>
<rect x="236.4" y="1065.69" width="15.2" height="24.47" fill="url(#pm)"/>
<path d="M236.4 1193V1090.16M251.6 1193V1090.16M236.4 1090.16H251.6" fill="none" stroke="#111" stroke-width="0.95" stroke-dasharray="2.4 1.2"/>
<path d="M236.4 1090.16V1065.69M251.6 1090.16V1065.69" fill="none" stroke="#222" stroke-width="0.8" stroke-dasharray="1 0.9"/>
<rect x="236.4" y="945.8" width="15.2" height="119.89" fill="#000"/>
<rect x="235.8" y="1136.93" width="16.4" height="9.3" fill="#fff"/>
<text x="237.26" y="1144.28" font-size="7.6" textLength="13.47" lengthAdjust="spacingAndGlyphs" fill="#1a1a1a">41.6</text>
<rect x="235.8" y="1001.1" width="16.4" height="9.3" fill="#fff"/>
<text x="237.26" y="1008.44" font-size="7.6" textLength="13.47" lengthAdjust="spacingAndGlyphs" fill="#1a1a1a">48.5</text>
<text x="232" y="1204.96" font-size="7.5" textLength="24.01" lengthAdjust="spacingAndGlyphs" fill="#1a1a1a">GUJRAT</text>
<rect x="273.71" y="1014.52" width="15.2" height="178.48" fill="url(#pl)"/>
<rect x="273.71" y="992.03" width="15.2" height="22.5" fill="url(#pm)"/>
<path d="M273.71 1193V1014.52M288.91 1193V1014.52M273.71 1014.52H288.91" fill="none" stroke="#111" stroke-width="0.95" stroke-dasharray="2.4 1.2"/>
<path d="M273.71 1014.52V992.03M288.91 1014.52V992.03" fill="none" stroke="#222" stroke-width="0.8" stroke-dasharray="1 0.9"/>
<rect x="273.71" y="945.8" width="15.2" height="46.23" fill="#000"/>
<rect x="273.11" y="1099.11" width="16.4" height="9.3" fill="#fff"/>
<text x="274.57" y="1106.46" font-size="7.6" textLength="13.47" lengthAdjust="spacingAndGlyphs" fill="#1a1a1a">72.2</text>
<rect x="273.11" y="952.75" width="16.4" height="9.3" fill="#fff"/>
<text x="274.57" y="960.1" font-size="7.6" textLength="13.47" lengthAdjust="spacingAndGlyphs" fill="#1a1a1a">18.7</text>
<text x="267.29" y="1204.96" font-size="7.5" textLength="28.04" lengthAdjust="spacingAndGlyphs" fill="#1a1a1a">MADHYA</text>
<text x="266.97" y="1213.76" font-size="7.5" textLength="28.68" lengthAdjust="spacingAndGlyphs" fill="#1a1a1a">PRADESH</text>
<rect x="311.02" y="965.33" width="15.2" height="227.67" fill="url(#pl)"/>
<rect x="311.02" y="959.89" width="15.2" height="5.44" fill="url(#pm)"/>
<path d="M311.02 1193V965.33M326.22 1193V965.33M311.02 965.33H326.22" fill="none" stroke="#111" stroke-width="0.95" stroke-dasharray="2.4 1.2"/>
<path d="M311.02 965.33V959.89M326.22 965.33V959.89" fill="none" stroke="#222" stroke-width="0.8" stroke-dasharray="1 0.9"/>
<rect x="311.02" y="945.8" width="15.2" height="14.09" fill="#000"/>
<rect x="310.42" y="1074.51" width="16.4" height="9.3" fill="#fff"/>
<text x="311.88" y="1081.86" font-size="7.6" textLength="13.47" lengthAdjust="spacingAndGlyphs" fill="#1a1a1a">92.1</text>
<rect x="307.11" y="943.65" width="11.62" height="9.3" fill="#fff"/>
<text x="308.11" y="951" font-size="7.6" textLength="9.62" lengthAdjust="spacingAndGlyphs" fill="#1a1a1a">5.7</text>
<text x="307.54" y="1204.96" font-size="7.5" textLength="22.16" lengthAdjust="spacingAndGlyphs" fill="#1a1a1a">ORISSA</text>
<rect x="348.33" y="984.86" width="15.2" height="208.14" fill="url(#pl)"/>
<rect x="348.33" y="977.94" width="15.2" height="6.92" fill="url(#pm)"/>
<path d="M348.33 1193V984.86M363.53 1193V984.86M348.33 984.86H363.53" fill="none" stroke="#111" stroke-width="0.95" stroke-dasharray="2.4 1.2"/>
<path d="M348.33 984.86V977.94M363.53 984.86V977.94" fill="none" stroke="#222" stroke-width="0.8" stroke-dasharray="1 0.9"/>
<rect x="348.33" y="945.8" width="15.2" height="32.14" fill="#000"/>
<rect x="347.73" y="1084.28" width="16.4" height="9.3" fill="#fff"/>
<text x="349.19" y="1091.63" font-size="7.6" textLength="13.47" lengthAdjust="spacingAndGlyphs" fill="#1a1a1a">84.2</text>
<rect x="350.27" y="947.55" width="11.31" height="9.3" fill="#fff"/>
<text x="352.07" y="954.9" font-size="7.6" textLength="7.71" lengthAdjust="spacingAndGlyphs" fill="#1a1a1a">13</text>
<text x="347.21" y="1204.96" font-size="7.5" textLength="17.43" lengthAdjust="spacingAndGlyphs" fill="#1a1a1a">WEST</text>
<text x="343.52" y="1213.76" font-size="7.5" textLength="24.81" lengthAdjust="spacingAndGlyphs" fill="#1a1a1a">BENGAL</text>
<rect x="385.64" y="1020.21" width="15.2" height="172.79" fill="url(#pl)"/>
<rect x="385.64" y="1006.86" width="15.2" height="13.35" fill="url(#pm)"/>
<path d="M385.64 1193V1020.21M400.84 1193V1020.21M385.64 1020.21H400.84" fill="none" stroke="#111" stroke-width="0.95" stroke-dasharray="2.4 1.2"/>
<path d="M385.64 1020.21V1006.86M400.84 1020.21V1006.86" fill="none" stroke="#222" stroke-width="0.8" stroke-dasharray="1 0.9"/>
<rect x="385.64" y="945.8" width="15.2" height="61.06" fill="#000"/>
<rect x="385.04" y="1101.95" width="16.4" height="9.3" fill="#fff"/>
<text x="386.5" y="1109.3" font-size="7.6" textLength="13.47" lengthAdjust="spacingAndGlyphs" fill="#1a1a1a">69.9</text>
<rect x="385.04" y="956.05" width="16.4" height="9.3" fill="#fff"/>
<text x="386.5" y="963.4" font-size="7.6" textLength="13.47" lengthAdjust="spacingAndGlyphs" fill="#1a1a1a">24.7</text>
<text x="382.97" y="1204.96" font-size="7.5" textLength="20.54" lengthAdjust="spacingAndGlyphs" fill="#1a1a1a">UTTRA</text>
<text x="378.9" y="1213.76" font-size="7.5" textLength="28.68" lengthAdjust="spacingAndGlyphs" fill="#1a1a1a">PRADESH</text>
<rect x="422.95" y="1032.57" width="15.2" height="160.43" fill="url(#pl)"/>
<rect x="422.95" y="1013.53" width="15.2" height="19.03" fill="url(#pm)"/>
<path d="M422.95 1193V1032.57M438.15 1193V1032.57M422.95 1032.57H438.15" fill="none" stroke="#111" stroke-width="0.95" stroke-dasharray="2.4 1.2"/>
<path d="M422.95 1032.57V1013.53M438.15 1032.57V1013.53" fill="none" stroke="#222" stroke-width="0.8" stroke-dasharray="1 0.9"/>
<rect x="422.95" y="945.8" width="15.2" height="67.73" fill="#000"/>
<rect x="422.35" y="1108.13" width="16.4" height="9.3" fill="#fff"/>
<text x="423.81" y="1115.48" font-size="7.6" textLength="13.47" lengthAdjust="spacingAndGlyphs" fill="#1a1a1a">64.9</text>
<rect x="422.35" y="964.65" width="16.4" height="9.3" fill="#fff"/>
<text x="423.81" y="972" font-size="7.6" textLength="13.47" lengthAdjust="spacingAndGlyphs" fill="#1a1a1a">27.4</text>
<text x="417.93" y="1204.96" font-size="7.5" textLength="25.23" lengthAdjust="spacingAndGlyphs" fill="#1a1a1a">POOLED</text>
<rect x="8" y="1061" width="8" height="18" fill="#fff"/>
<text x="4.81" y="1072.84" font-size="8" font-weight="bold" textLength="14.38" lengthAdjust="spacingAndGlyphs" fill="#1a1a1a" transform="rotate(-90 12 1070)">RDA</text>
<rect x="176" y="1221.6" width="3.4" height="3.4" fill="url(#pl)" stroke="#555" stroke-width="0.5"/>
<text x="179.5" y="1225.57" font-size="6.4" textLength="28.2" lengthAdjust="spacingAndGlyphs" fill="#1a1a1a">&lt;50 % RDA</text>
<rect x="217" y="1221.6" width="3.4" height="3.4" fill="url(#pm)" stroke="#444" stroke-width="0.5"/>
<text x="221" y="1225.57" font-size="6.4" textLength="32.3" lengthAdjust="spacingAndGlyphs" fill="#1a1a1a">50-70 % RDA</text>
<rect x="263.3" y="1221.6" width="3.4" height="3.4" fill="#000"/>
<text x="267.7" y="1225.57" font-size="6.4" textLength="26" lengthAdjust="spacingAndGlyphs" fill="#1a1a1a">&gt;70 % RDA</text>
<rect x="415.9" y="1216" width="41.3" height="15.9" fill="#fff" stroke="#333" stroke-width="0.9"/>
<text x="433.59" y="1227.55" font-size="9.3" font-weight="bold" textLength="5.92" lengthAdjust="spacingAndGlyphs" fill="#1a1a1a">D</text>
</g>
<g>
<rect x="8.6" y="1253.6" width="452.2" height="277.4" fill="#fff" stroke="#686868" stroke-width="0.8"/>
<line x1="69.2" y1="1259.2" x2="69.2" y2="1488.7" stroke="#333" stroke-width="0.75"/>
<text x="67.25" y="1497.13" font-size="7.7" textLength="3.9" lengthAdjust="spacingAndGlyphs" fill="#1a1a1a">0</text>
<line x1="116.53" y1="1259.2" x2="116.53" y2="1488.7" stroke="#3c3c3c" stroke-width="0.75"/>
<text x="110.67" y="1497.13" font-size="7.7" textLength="11.71" lengthAdjust="spacingAndGlyphs" fill="#1a1a1a">100</text>
<line x1="163.85" y1="1259.2" x2="163.85" y2="1488.7" stroke="#3c3c3c" stroke-width="0.75"/>
<text x="157.99" y="1497.13" font-size="7.7" textLength="11.71" lengthAdjust="spacingAndGlyphs" fill="#1a1a1a">200</text>
<line x1="211.18" y1="1259.2" x2="211.18" y2="1488.7" stroke="#3c3c3c" stroke-width="0.75"/>
<text x="205.32" y="1497.13" font-size="7.7" textLength="11.71" lengthAdjust="spacingAndGlyphs" fill="#1a1a1a">300</text>
<line x1="258.5" y1="1259.2" x2="258.5" y2="1488.7" stroke="#3c3c3c" stroke-width="0.75"/>
<text x="252.64" y="1497.13" font-size="7.7" textLength="11.71" lengthAdjust="spacingAndGlyphs" fill="#1a1a1a">400</text>
<line x1="305.82" y1="1259.2" x2="305.82" y2="1488.7" stroke="#3c3c3c" stroke-width="0.75"/>
<text x="299.97" y="1497.13" font-size="7.7" textLength="11.71" lengthAdjust="spacingAndGlyphs" fill="#1a1a1a">500</text>
<line x1="353.15" y1="1259.2" x2="353.15" y2="1488.7" stroke="#3c3c3c" stroke-width="0.75"/>
<text x="347.29" y="1497.13" font-size="7.7" textLength="11.71" lengthAdjust="spacingAndGlyphs" fill="#1a1a1a">600</text>
<line x1="400.48" y1="1259.2" x2="400.48" y2="1488.7" stroke="#3c3c3c" stroke-width="0.75"/>
<text x="394.62" y="1497.13" font-size="7.7" textLength="11.71" lengthAdjust="spacingAndGlyphs" fill="#1a1a1a">700</text>
<line x1="447.8" y1="1259.2" x2="447.8" y2="1488.7" stroke="#3c3c3c" stroke-width="0.75"/>
<text x="441.94" y="1497.13" font-size="7.7" textLength="11.71" lengthAdjust="spacingAndGlyphs" fill="#1a1a1a">800</text>
<line x1="69.2" y1="1486.4" x2="447.8" y2="1486.4" stroke="#333" stroke-width="0.85"/>
<line x1="67.2" y1="1259.2" x2="69.2" y2="1259.2" stroke="#333" stroke-width="0.6"/>
<line x1="67.2" y1="1287.6" x2="69.2" y2="1287.6" stroke="#333" stroke-width="0.6"/>
<line x1="67.2" y1="1316" x2="69.2" y2="1316" stroke="#333" stroke-width="0.6"/>
<line x1="67.2" y1="1344.4" x2="69.2" y2="1344.4" stroke="#333" stroke-width="0.6"/>
<line x1="67.2" y1="1372.8" x2="69.2" y2="1372.8" stroke="#333" stroke-width="0.6"/>
<line x1="67.2" y1="1401.2" x2="69.2" y2="1401.2" stroke="#333" stroke-width="0.6"/>
<line x1="67.2" y1="1429.6" x2="69.2" y2="1429.6" stroke="#333" stroke-width="0.6"/>
<line x1="67.2" y1="1458" x2="69.2" y2="1458" stroke="#333" stroke-width="0.6"/>
<line x1="67.2" y1="1486.4" x2="69.2" y2="1486.4" stroke="#333" stroke-width="0.6"/>
<text x="30.29" y="1276.63" font-size="9.1" textLength="30.61" lengthAdjust="spacingAndGlyphs" fill="#1a1a1a">POOLED</text>
<rect x="69.2" y="1264.2" width="174.1" height="3.4" fill="#000"/>
<rect x="69.2" y="1269.6" width="212.8" height="2.8" fill="url(#pg)" stroke="#7d7d7d" stroke-width="0.6"/>
<rect x="69.2" y="1274.7" width="221.5" height="2.8" fill="#fff" stroke="#444" stroke-width="0.6"/>
<rect x="69.2" y="1279.1" width="239.5" height="3.8" fill="#000"/>
<path d="M70 1280.45H308.3 M71 1281.55H308.3" stroke="#fff" stroke-width="1.05" stroke-dasharray="1 1" fill="none"/>
<text x="34.02" y="1305.03" font-size="9.1" textLength="26.88" lengthAdjust="spacingAndGlyphs" fill="#1a1a1a">ORISSA</text>
<rect x="69.2" y="1292.6" width="205.1" height="3.4" fill="#000"/>
<rect x="69.2" y="1298" width="255.8" height="2.8" fill="url(#pg)" stroke="#7d7d7d" stroke-width="0.6"/>
<rect x="69.2" y="1303.1" width="255.5" height="2.8" fill="#fff" stroke="#444" stroke-width="0.6"/>
<text x="31.77" y="1333.43" font-size="9.1" textLength="29.13" lengthAdjust="spacingAndGlyphs" fill="#1a1a1a">GUJRAT</text>
<rect x="69.2" y="1321" width="175.1" height="3.4" fill="#000"/>
<rect x="69.2" y="1326.4" width="204.1" height="2.8" fill="url(#pg)" stroke="#7d7d7d" stroke-width="0.6"/>
<rect x="69.2" y="1331.5" width="233.2" height="2.8" fill="#fff" stroke="#444" stroke-width="0.6"/>
<rect x="69.2" y="1336.1" width="214.1" height="3.8" fill="#000"/>
<path d="M70 1337.45H282.9 M71 1338.55H282.9" stroke="#fff" stroke-width="1.05" stroke-dasharray="1 1" fill="none"/>
<text x="18.09" y="1361.83" font-size="9.1" textLength="42.81" lengthAdjust="spacingAndGlyphs" fill="#1a1a1a">MAHARAST</text>
<rect x="69.2" y="1349.4" width="150.8" height="3.4" fill="#000"/>
<rect x="69.2" y="1354.8" width="210.1" height="2.8" fill="url(#pg)" stroke="#7d7d7d" stroke-width="0.6"/>
<rect x="69.2" y="1359.9" width="219.2" height="2.8" fill="#fff" stroke="#444" stroke-width="0.6"/>
<rect x="69.2" y="1364.1" width="238.5" height="3.8" fill="#000"/>
<path d="M70 1365.45H307.3 M71 1366.55H307.3" stroke="#fff" stroke-width="1.05" stroke-dasharray="1 1" fill="none"/>
<text x="28.28" y="1390.23" font-size="9.1" textLength="32.62" lengthAdjust="spacingAndGlyphs" fill="#1a1a1a">ANDHRA</text>
<rect x="69.2" y="1377.8" width="189.1" height="3.4" fill="#000"/>
<rect x="69.2" y="1383.2" width="234.5" height="2.8" fill="url(#pg)" stroke="#7d7d7d" stroke-width="0.6"/>
<rect x="69.2" y="1388.3" width="253.2" height="2.8" fill="#fff" stroke="#444" stroke-width="0.6"/>
<rect x="69.2" y="1393.1" width="269.5" height="3.8" fill="#000"/>
<path d="M70 1394.45H338.3 M71 1395.55H338.3" stroke="#fff" stroke-width="1.05" stroke-dasharray="1 1" fill="none"/>
<text x="30.38" y="1418.63" font-size="9.1" textLength="30.52" lengthAdjust="spacingAndGlyphs" fill="#1a1a1a">KARNAT</text>
<rect x="69.2" y="1406.2" width="198.5" height="3.4" fill="#000"/>
<rect x="69.2" y="1411.6" width="216.8" height="2.8" fill="url(#pg)" stroke="#7d7d7d" stroke-width="0.6"/>
<rect x="69.2" y="1416.7" width="258.8" height="2.8" fill="#fff" stroke="#444" stroke-width="0.6"/>
<rect x="69.2" y="1421.1" width="322.8" height="3.8" fill="#000"/>
<path d="M70 1422.45H391.6 M71 1423.55H391.6" stroke="#fff" stroke-width="1.05" stroke-dasharray="1 1" fill="none"/>
<text x="12.66" y="1447.03" font-size="9.1" textLength="48.24" lengthAdjust="spacingAndGlyphs" fill="#1a1a1a">TAMIL NADU</text>
<rect x="69.2" y="1434.6" width="165.1" height="3.4" fill="#000"/>
<rect x="69.2" y="1440" width="22.5" height="2.8" fill="url(#pg)" stroke="#7d7d7d" stroke-width="0.6"/>
<rect x="69.2" y="1445.1" width="191.5" height="2.8" fill="#fff" stroke="#444" stroke-width="0.6"/>
<rect x="69.2" y="1450.1" width="231.8" height="3.8" fill="#000"/>
<path d="M70 1451.45H300.6 M71 1452.55H300.6" stroke="#fff" stroke-width="1.05" stroke-dasharray="1 1" fill="none"/>
<text x="32.43" y="1475.43" font-size="9.1" textLength="28.47" lengthAdjust="spacingAndGlyphs" fill="#1a1a1a">KERALA</text>
<rect x="69.2" y="1463" width="135.1" height="3.4" fill="#000"/>
<rect x="69.2" y="1468.4" width="166.8" height="2.8" fill="url(#pg)" stroke="#7d7d7d" stroke-width="0.6"/>
<rect x="69.2" y="1473.5" width="174.2" height="2.8" fill="#fff" stroke="#444" stroke-width="0.6"/>
<rect x="69.2" y="1478.1" width="161.8" height="3.8" fill="#000"/>
<path d="M70 1479.45H230.6 M71 1480.55H230.6" stroke="#fff" stroke-width="1.05" stroke-dasharray="1 1" fill="none"/>
<text x="239.3" y="1506.49" font-size="9" font-weight="bold" textLength="37.4" lengthAdjust="spacingAndGlyphs" fill="#1a1a1a">g/CU/Day</text>
<rect x="137.3" y="1519.7" width="4" height="4" fill="#000"/>
<text x="149.3" y="1524.89" font-size="9" textLength="30" lengthAdjust="spacingAndGlyphs" fill="#1a1a1a">2011-12</text>
<rect x="189.3" y="1519.7" width="4" height="4" fill="url(#pg)" stroke="#666" stroke-width="0.6"/>
<text x="200" y="1524.89" font-size="9" textLength="30.7" lengthAdjust="spacingAndGlyphs" fill="#1a1a1a">1996-97</text>
<rect x="240.7" y="1519.7" width="4" height="4" fill="#fff" stroke="#333" stroke-width="0.6"/>
<text x="252.7" y="1524.89" font-size="9" textLength="30.7" lengthAdjust="spacingAndGlyphs" fill="#1a1a1a">1988-90</text>
<rect x="292" y="1519.7" width="4" height="4" fill="#000"/>
<path d="M292.6 1521.2h2.8 M293.6 1522.7h1.8" stroke="#fff" stroke-width="1" stroke-dasharray="1 1" fill="none"/>
<text x="304" y="1524.89" font-size="9" textLength="30.7" lengthAdjust="spacingAndGlyphs" fill="#1a1a1a">1975-79</text>
<rect x="419.2" y="1515.7" width="41.6" height="15.3" fill="#fff" stroke="#333" stroke-width="0.9"/>
<text x="437.65" y="1526.95" font-size="9.3" font-weight="bold" textLength="4.7" lengthAdjust="spacingAndGlyphs" fill="#1a1a1a">E</text>
</g>
<g>
<rect x="16.7" y="1549.3" width="440.7" height="312.8" fill="#fff" stroke="#686868" stroke-width="0.8"/>
<line x1="43.2" y1="1820" x2="449.4" y2="1820" stroke="#4a4a4a" stroke-width="0.9"/>
<text x="28.21" y="1822.7" font-size="7.6" textLength="9.29" lengthAdjust="spacingAndGlyphs" fill="#1a1a1a">0%</text>
<line x1="43.2" y1="1793.67" x2="449.4" y2="1793.67" stroke="#4a4a4a" stroke-width="0.9"/>
<text x="24.36" y="1796.37" font-size="7.6" textLength="13.14" lengthAdjust="spacingAndGlyphs" fill="#1a1a1a">10%</text>
<line x1="43.2" y1="1767.34" x2="449.4" y2="1767.34" stroke="#4a4a4a" stroke-width="0.9"/>
<text x="24.36" y="1770.04" font-size="7.6" textLength="13.14" lengthAdjust="spacingAndGlyphs" fill="#1a1a1a">20%</text>
<line x1="43.2" y1="1741.01" x2="449.4" y2="1741.01" stroke="#4a4a4a" stroke-width="0.9"/>
<text x="24.36" y="1743.71" font-size="7.6" textLength="13.14" lengthAdjust="spacingAndGlyphs" fill="#1a1a1a">30%</text>
<line x1="43.2" y1="1714.68" x2="449.4" y2="1714.68" stroke="#4a4a4a" stroke-width="0.9"/>
<text x="24.36" y="1717.38" font-size="7.6" textLength="13.14" lengthAdjust="spacingAndGlyphs" fill="#1a1a1a">40%</text>
<line x1="43.2" y1="1688.35" x2="449.4" y2="1688.35" stroke="#4a4a4a" stroke-width="0.9"/>
<text x="24.36" y="1691.05" font-size="7.6" textLength="13.14" lengthAdjust="spacingAndGlyphs" fill="#1a1a1a">50%</text>
<line x1="43.2" y1="1662.02" x2="449.4" y2="1662.02" stroke="#4a4a4a" stroke-width="0.9"/>
<text x="24.36" y="1664.72" font-size="7.6" textLength="13.14" lengthAdjust="spacingAndGlyphs" fill="#1a1a1a">60%</text>
<line x1="43.2" y1="1635.69" x2="449.4" y2="1635.69" stroke="#4a4a4a" stroke-width="0.9"/>
<text x="24.36" y="1638.39" font-size="7.6" textLength="13.14" lengthAdjust="spacingAndGlyphs" fill="#1a1a1a">70%</text>
<line x1="43.2" y1="1609.36" x2="449.4" y2="1609.36" stroke="#4a4a4a" stroke-width="0.9"/>
<text x="24.36" y="1612.06" font-size="7.6" textLength="13.14" lengthAdjust="spacingAndGlyphs" fill="#1a1a1a">80%</text>
<line x1="43.2" y1="1583.03" x2="449.4" y2="1583.03" stroke="#4a4a4a" stroke-width="0.9"/>
<text x="24.36" y="1585.73" font-size="7.6" textLength="13.14" lengthAdjust="spacingAndGlyphs" fill="#1a1a1a">90%</text>
<line x1="43.2" y1="1556.7" x2="449.4" y2="1556.7" stroke="#4a4a4a" stroke-width="0.9"/>
<text x="20.51" y="1559.4" font-size="7.6" textLength="16.99" lengthAdjust="spacingAndGlyphs" fill="#1a1a1a">100%</text>
<line x1="45.7" y1="1556.7" x2="45.7" y2="1820" stroke="#4a4a4a" stroke-width="0.9"/>
<line x1="45.7" y1="1820" x2="45.7" y2="1822.5" stroke="#444" stroke-width="0.6"/>
<line x1="82.4" y1="1820" x2="82.4" y2="1822.5" stroke="#444" stroke-width="0.6"/>
<line x1="119.1" y1="1820" x2="119.1" y2="1822.5" stroke="#444" stroke-width="0.6"/>
<line x1="155.8" y1="1820" x2="155.8" y2="1822.5" stroke="#444" stroke-width="0.6"/>
<line x1="192.5" y1="1820" x2="192.5" y2="1822.5" stroke="#444" stroke-width="0.6"/>
<line x1="229.2" y1="1820" x2="229.2" y2="1822.5" stroke="#444" stroke-width="0.6"/>
<line x1="265.9" y1="1820" x2="265.9" y2="1822.5" stroke="#444" stroke-width="0.6"/>
<line x1="302.6" y1="1820" x2="302.6" y2="1822.5" stroke="#444" stroke-width="0.6"/>
<line x1="339.3" y1="1820" x2="339.3" y2="1822.5" stroke="#444" stroke-width="0.6"/>
<line x1="376" y1="1820" x2="376" y2="1822.5" stroke="#444" stroke-width="0.6"/>
<line x1="412.7" y1="1820" x2="412.7" y2="1822.5" stroke="#444" stroke-width="0.6"/>
<line x1="449.4" y1="1820" x2="449.4" y2="1822.5" stroke="#444" stroke-width="0.6"/>
<rect x="56.65" y="1746.28" width="14.8" height="73.72" fill="url(#pf)"/>
<rect x="56.65" y="1637.53" width="14.8" height="108.74" fill="url(#pm)"/>
<path d="M56.65 1820V1746.28M71.45 1820V1746.28M56.65 1746.28H71.45" fill="none" stroke="#555" stroke-width="0.95" stroke-dasharray="2.4 1.2"/>
<path d="M56.65 1746.28V1637.53M71.45 1746.28V1637.53" fill="none" stroke="#222" stroke-width="0.8" stroke-dasharray="1 0.9"/>
<rect x="56.65" y="1556.7" width="14.8" height="80.83" fill="#000"/>
<rect x="56.05" y="1686.5" width="16" height="10.8" fill="#fff"/>
<text x="57.22" y="1694.64" font-size="7.7" textLength="13.65" lengthAdjust="spacingAndGlyphs" fill="#1a1a1a">41.3</text>
<rect x="56.05" y="1591.72" width="16" height="10.8" fill="#fff"/>
<text x="57.22" y="1599.85" font-size="7.7" textLength="13.65" lengthAdjust="spacingAndGlyphs" fill="#1a1a1a">30.7</text>
<text x="51.85" y="1832.77" font-size="7.8" textLength="24.41" lengthAdjust="spacingAndGlyphs" fill="#1a1a1a">KERALA</text>
<rect x="93.35" y="1803.68" width="14.8" height="16.32" fill="url(#pf)"/>
<rect x="93.35" y="1710.47" width="14.8" height="93.21" fill="url(#pm)"/>
<path d="M93.35 1820V1803.68M108.15 1820V1803.68M93.35 1803.68H108.15" fill="none" stroke="#555" stroke-width="0.95" stroke-dasharray="2.4 1.2"/>
<path d="M93.35 1803.68V1710.47M108.15 1803.68V1710.47" fill="none" stroke="#222" stroke-width="0.8" stroke-dasharray="1 0.9"/>
<rect x="93.35" y="1556.7" width="14.8" height="153.77" fill="#000"/>
<rect x="92.75" y="1751.67" width="16" height="10.8" fill="#fff"/>
<text x="93.92" y="1759.8" font-size="7.7" textLength="13.65" lengthAdjust="spacingAndGlyphs" fill="#1a1a1a">35.4</text>
<rect x="92.75" y="1628.18" width="16" height="10.8" fill="#fff"/>
<text x="93.92" y="1636.32" font-size="7.7" textLength="13.65" lengthAdjust="spacingAndGlyphs" fill="#1a1a1a">58.4</text>
<text x="90.64" y="1832.77" font-size="7.8" textLength="20.23" lengthAdjust="spacingAndGlyphs" fill="#1a1a1a">TAMIL</text>
<text x="91.07" y="1841.77" font-size="7.8" textLength="19.36" lengthAdjust="spacingAndGlyphs" fill="#1a1a1a">NADU</text>
<rect x="130.05" y="1806.05" width="14.8" height="13.95" fill="url(#pf)"/>
<rect x="130.05" y="1763.13" width="14.8" height="42.92" fill="url(#pm)"/>
<path d="M130.05 1820V1806.05M144.85 1820V1806.05M130.05 1806.05H144.85" fill="none" stroke="#555" stroke-width="0.95" stroke-dasharray="2.4 1.2"/>
<path d="M130.05 1806.05V1763.13M144.85 1806.05V1763.13" fill="none" stroke="#222" stroke-width="0.8" stroke-dasharray="1 0.9"/>
<rect x="130.05" y="1556.7" width="14.8" height="206.43" fill="#000"/>
<rect x="129.45" y="1779.19" width="16" height="10.8" fill="#fff"/>
<text x="130.62" y="1787.32" font-size="7.7" textLength="13.65" lengthAdjust="spacingAndGlyphs" fill="#1a1a1a">16.3</text>
<rect x="129.45" y="1654.51" width="16" height="10.8" fill="#fff"/>
<text x="130.62" y="1662.65" font-size="7.7" textLength="13.65" lengthAdjust="spacingAndGlyphs" fill="#1a1a1a">78.4</text>
<text x="124.37" y="1832.77" font-size="7.8" textLength="26.16" lengthAdjust="spacingAndGlyphs" fill="#1a1a1a">KARNAT</text>
<rect x="166.75" y="1807.62" width="14.8" height="12.38" fill="url(#pf)"/>
<rect x="166.75" y="1750.23" width="14.8" height="57.4" fill="url(#pm)"/>
<path d="M166.75 1820V1807.62M181.55 1820V1807.62M166.75 1807.62H181.55" fill="none" stroke="#555" stroke-width="0.95" stroke-dasharray="2.4 1.2"/>
<path d="M166.75 1807.62V1750.23M181.55 1807.62V1750.23" fill="none" stroke="#222" stroke-width="0.8" stroke-dasharray="1 0.9"/>
<rect x="166.75" y="1556.7" width="14.8" height="193.53" fill="#000"/>
<rect x="166.15" y="1773.53" width="16" height="10.8" fill="#fff"/>
<text x="167.32" y="1781.66" font-size="7.7" textLength="13.65" lengthAdjust="spacingAndGlyphs" fill="#1a1a1a">21.8</text>
<rect x="166.15" y="1648.06" width="16" height="10.8" fill="#fff"/>
<text x="167.32" y="1656.2" font-size="7.7" textLength="13.65" lengthAdjust="spacingAndGlyphs" fill="#1a1a1a">73.5</text>
<text x="160.17" y="1832.77" font-size="7.8" textLength="27.96" lengthAdjust="spacingAndGlyphs" fill="#1a1a1a">ANDHRA</text>
<rect x="203.45" y="1763.92" width="14.8" height="56.08" fill="url(#pf)"/>
<rect x="203.45" y="1678.87" width="14.8" height="85.05" fill="url(#pm)"/>
<path d="M203.45 1820V1763.92M218.25 1820V1763.92M203.45 1763.92H218.25" fill="none" stroke="#555" stroke-width="0.95" stroke-dasharray="2.4 1.2"/>
<path d="M203.45 1763.92V1678.87M218.25 1763.92V1678.87" fill="none" stroke="#222" stroke-width="0.8" stroke-dasharray="1 0.9"/>
<rect x="203.45" y="1556.7" width="14.8" height="122.17" fill="#000"/>
<rect x="202.85" y="1715.99" width="16" height="10.8" fill="#fff"/>
<text x="204.02" y="1724.13" font-size="7.7" textLength="13.65" lengthAdjust="spacingAndGlyphs" fill="#1a1a1a">32.3</text>
<rect x="202.85" y="1612.39" width="16" height="10.8" fill="#fff"/>
<text x="204.02" y="1620.52" font-size="7.7" textLength="13.65" lengthAdjust="spacingAndGlyphs" fill="#1a1a1a">46.4</text>
<text x="192.5" y="1832.77" font-size="7.8" textLength="36.69" lengthAdjust="spacingAndGlyphs" fill="#1a1a1a">MAHARAST</text>
<rect x="240.15" y="1805.26" width="14.8" height="14.74" fill="url(#pf)"/>
<rect x="240.15" y="1733.11" width="14.8" height="72.14" fill="url(#pm)"/>
<path d="M240.15 1820V1805.26M254.95 1820V1805.26M240.15 1805.26H254.95" fill="none" stroke="#555" stroke-width="0.95" stroke-dasharray="2.4 1.2"/>
<path d="M240.15 1805.26V1733.11M254.95 1805.26V1733.11" fill="none" stroke="#222" stroke-width="0.8" stroke-dasharray="1 0.9"/>
<rect x="240.15" y="1556.7" width="14.8" height="176.41" fill="#000"/>
<rect x="239.55" y="1763.78" width="16" height="10.8" fill="#fff"/>
<text x="240.72" y="1771.92" font-size="7.7" textLength="13.65" lengthAdjust="spacingAndGlyphs" fill="#1a1a1a">27.4</text>
<rect x="241.85" y="1639.51" width="11.41" height="10.8" fill="#fff"/>
<text x="243.65" y="1647.64" font-size="7.7" textLength="7.81" lengthAdjust="spacingAndGlyphs" fill="#1a1a1a">67</text>
<text x="235.07" y="1832.77" font-size="7.8" textLength="24.97" lengthAdjust="spacingAndGlyphs" fill="#1a1a1a">GUJRAT</text>
<rect x="276.85" y="1815" width="14.8" height="5" fill="url(#pf)"/>
<rect x="276.85" y="1786.82" width="14.8" height="28.17" fill="url(#pm)"/>
<path d="M276.85 1820V1815M291.65 1820V1815M276.85 1815H291.65" fill="none" stroke="#555" stroke-width="0.95" stroke-dasharray="2.4 1.2"/>
<path d="M276.85 1815V1786.82M291.65 1815V1786.82" fill="none" stroke="#222" stroke-width="0.8" stroke-dasharray="1 0.9"/>
<rect x="276.85" y="1556.7" width="14.8" height="230.12" fill="#000"/>
<rect x="282.95" y="1786.3" width="16" height="10.8" fill="#fff"/>
<text x="284.12" y="1794.43" font-size="7.7" textLength="13.65" lengthAdjust="spacingAndGlyphs" fill="#1a1a1a">10.7</text>
<rect x="276.25" y="1666.36" width="16" height="10.8" fill="#fff"/>
<text x="277.42" y="1674.5" font-size="7.7" textLength="13.65" lengthAdjust="spacingAndGlyphs" fill="#1a1a1a">87.4</text>
<text x="269.67" y="1832.77" font-size="7.8" textLength="29.16" lengthAdjust="spacingAndGlyphs" fill="#1a1a1a">MADHYA</text>
<text x="269.34" y="1841.77" font-size="7.8" textLength="29.83" lengthAdjust="spacingAndGlyphs" fill="#1a1a1a">PRADESH</text>
<rect x="313.55" y="1798.41" width="14.8" height="21.59" fill="url(#pf)"/>
<rect x="313.55" y="1783.14" width="14.8" height="15.27" fill="url(#pm)"/>
<path d="M313.55 1820V1798.41M328.35 1820V1798.41M313.55 1798.41H328.35" fill="none" stroke="#555" stroke-width="0.95" stroke-dasharray="2.4 1.2"/>
<path d="M313.55 1798.41V1783.14M328.35 1798.41V1783.14" fill="none" stroke="#222" stroke-width="0.8" stroke-dasharray="1 0.9"/>
<rect x="313.55" y="1556.7" width="14.8" height="226.44" fill="#000"/>
<rect x="323.08" y="1777.6" width="11.75" height="10.8" fill="#fff"/>
<text x="324.08" y="1785.73" font-size="7.7" textLength="9.75" lengthAdjust="spacingAndGlyphs" fill="#1a1a1a">6.1</text>
<rect x="315.25" y="1664.52" width="11.41" height="10.8" fill="#fff"/>
<text x="317.05" y="1672.65" font-size="7.7" textLength="7.81" lengthAdjust="spacingAndGlyphs" fill="#1a1a1a">93</text>
<text x="309.43" y="1832.77" font-size="7.8" textLength="23.04" lengthAdjust="spacingAndGlyphs" fill="#1a1a1a">ORISSA</text>
<rect x="350.25" y="1799.46" width="14.8" height="20.54" fill="url(#pf)"/>
<rect x="350.25" y="1667.81" width="14.8" height="131.65" fill="url(#pm)"/>
<path d="M350.25 1820V1799.46M365.05 1820V1799.46M350.25 1799.46H365.05" fill="none" stroke="#555" stroke-width="0.95" stroke-dasharray="2.4 1.2"/>
<path d="M350.25 1799.46V1667.81M365.05 1799.46V1667.81" fill="none" stroke="#222" stroke-width="0.8" stroke-dasharray="1 0.9"/>
<rect x="350.25" y="1556.7" width="14.8" height="111.11" fill="#000"/>
<rect x="351.95" y="1728.24" width="11.41" height="10.8" fill="#fff"/>
<text x="353.75" y="1736.37" font-size="7.7" textLength="7.81" lengthAdjust="spacingAndGlyphs" fill="#1a1a1a">50</text>
<rect x="349.65" y="1606.86" width="16" height="10.8" fill="#fff"/>
<text x="350.82" y="1614.99" font-size="7.7" textLength="13.65" lengthAdjust="spacingAndGlyphs" fill="#1a1a1a">42.2</text>
<text x="348.59" y="1832.77" font-size="7.8" textLength="18.13" lengthAdjust="spacingAndGlyphs" fill="#1a1a1a">WEST</text>
<text x="344.75" y="1841.77" font-size="7.8" textLength="25.8" lengthAdjust="spacingAndGlyphs" fill="#1a1a1a">BENGAL</text>
<rect x="386.95" y="1796.83" width="14.8" height="23.17" fill="url(#pf)"/>
<rect x="386.95" y="1742.59" width="14.8" height="54.24" fill="url(#pm)"/>
<path d="M386.95 1820V1796.83M401.75 1820V1796.83M386.95 1796.83H401.75" fill="none" stroke="#555" stroke-width="0.95" stroke-dasharray="2.4 1.2"/>
<path d="M386.95 1796.83V1742.59M401.75 1796.83V1742.59" fill="none" stroke="#222" stroke-width="0.8" stroke-dasharray="1 0.9"/>
<rect x="386.95" y="1556.7" width="14.8" height="185.89" fill="#000"/>
<rect x="386.35" y="1764.31" width="16" height="10.8" fill="#fff"/>
<text x="387.52" y="1772.44" font-size="7.7" textLength="13.65" lengthAdjust="spacingAndGlyphs" fill="#1a1a1a">20.6</text>
<rect x="386.35" y="1644.24" width="16" height="10.8" fill="#fff"/>
<text x="387.52" y="1652.38" font-size="7.7" textLength="13.65" lengthAdjust="spacingAndGlyphs" fill="#1a1a1a">70.6</text>
<text x="383.67" y="1832.77" font-size="7.8" textLength="21.36" lengthAdjust="spacingAndGlyphs" fill="#1a1a1a">UTTRA</text>
<text x="379.44" y="1841.77" font-size="7.8" textLength="29.83" lengthAdjust="spacingAndGlyphs" fill="#1a1a1a">PRADESH</text>
<rect x="423.65" y="1796.3" width="14.8" height="23.7" fill="url(#pf)"/>
<rect x="423.65" y="1727.58" width="14.8" height="68.72" fill="url(#pm)"/>
<path d="M423.65 1820V1796.3M438.45 1820V1796.3M423.65 1796.3H438.45" fill="none" stroke="#555" stroke-width="0.95" stroke-dasharray="2.4 1.2"/>
<path d="M423.65 1796.3V1727.58M438.45 1796.3V1727.58" fill="none" stroke="#222" stroke-width="0.8" stroke-dasharray="1 0.9"/>
<rect x="423.65" y="1556.7" width="14.8" height="170.88" fill="#000"/>
<rect x="423.05" y="1756.54" width="16" height="10.8" fill="#fff"/>
<text x="424.22" y="1764.68" font-size="7.7" textLength="13.65" lengthAdjust="spacingAndGlyphs" fill="#1a1a1a">26.1</text>
<rect x="423.05" y="1636.74" width="16" height="10.8" fill="#fff"/>
<text x="424.22" y="1644.87" font-size="7.7" textLength="13.65" lengthAdjust="spacingAndGlyphs" fill="#1a1a1a">64.9</text>
<text x="417.93" y="1832.77" font-size="7.8" textLength="26.24" lengthAdjust="spacingAndGlyphs" fill="#1a1a1a">POOLED</text>
<rect x="10.7" y="1679.3" width="8" height="18" fill="#fff"/>
<text x="7.51" y="1691.14" font-size="8" font-weight="bold" textLength="14.38" lengthAdjust="spacingAndGlyphs" fill="#1a1a1a" transform="rotate(-90 14.7 1688.3)">RDA</text>
<rect x="178.7" y="1850.9" width="3.6" height="3.6" fill="url(#pf)" stroke="#555" stroke-width="0.5"/>
<text x="182.3" y="1854.97" font-size="6.4" textLength="28.2" lengthAdjust="spacingAndGlyphs" fill="#1a1a1a">&lt;50 % RDA</text>
<rect x="219.3" y="1850.9" width="3.6" height="3.6" fill="url(#pm)" stroke="#444" stroke-width="0.5"/>
<text x="223.7" y="1854.97" font-size="6.4" textLength="33" lengthAdjust="spacingAndGlyphs" fill="#1a1a1a">50-70 % RDA</text>
<rect x="266.7" y="1850.9" width="3.6" height="3.6" fill="#000"/>
<text x="271" y="1854.97" font-size="6.4" textLength="27.7" lengthAdjust="spacingAndGlyphs" fill="#1a1a1a">&gt;70 % RDA</text>
<rect x="419" y="1844.8" width="39.5" height="17.3" fill="#fff" stroke="#333" stroke-width="0.9"/>
<text x="436.54" y="1857.05" font-size="9.3" font-weight="bold" textLength="4.42" lengthAdjust="spacingAndGlyphs" fill="#1a1a1a">F</text>
</g>
<g>
<rect x="5.1" y="1881.3" width="455.4" height="302.7" fill="#fff" stroke="#686868" stroke-width="0.8"/>
<line x1="42.7" y1="2106.5" x2="425.5" y2="2106.5" stroke="#4a4a4a" stroke-width="0.9"/>
<text x="34.05" y="2109.2" font-size="7.6" textLength="3.85" lengthAdjust="spacingAndGlyphs" fill="#1a1a1a">0</text>
<text x="429.1" y="2108.81" font-size="6.5" textLength="3.3" lengthAdjust="spacingAndGlyphs" fill="#1a1a1a">0</text>
<line x1="42.7" y1="2070.15" x2="425.5" y2="2070.15" stroke="#4a4a4a" stroke-width="0.9"/>
<text x="26.34" y="2072.85" font-size="7.6" textLength="11.56" lengthAdjust="spacingAndGlyphs" fill="#1a1a1a">100</text>
<text x="429.1" y="2072.46" font-size="6.5" textLength="6.59" lengthAdjust="spacingAndGlyphs" fill="#1a1a1a">20</text>
<line x1="42.7" y1="2033.8" x2="425.5" y2="2033.8" stroke="#4a4a4a" stroke-width="0.9"/>
<text x="26.34" y="2036.5" font-size="7.6" textLength="11.56" lengthAdjust="spacingAndGlyphs" fill="#1a1a1a">200</text>
<text x="429.1" y="2036.11" font-size="6.5" textLength="6.59" lengthAdjust="spacingAndGlyphs" fill="#1a1a1a">40</text>
<line x1="42.7" y1="1997.45" x2="425.5" y2="1997.45" stroke="#4a4a4a" stroke-width="0.9"/>
<text x="26.34" y="2000.15" font-size="7.6" textLength="11.56" lengthAdjust="spacingAndGlyphs" fill="#1a1a1a">300</text>
<text x="429.1" y="1999.76" font-size="6.5" textLength="6.59" lengthAdjust="spacingAndGlyphs" fill="#1a1a1a">60</text>
<line x1="42.7" y1="1961.1" x2="425.5" y2="1961.1" stroke="#4a4a4a" stroke-width="0.9"/>
<text x="26.34" y="1963.8" font-size="7.6" textLength="11.56" lengthAdjust="spacingAndGlyphs" fill="#1a1a1a">400</text>
<text x="429.1" y="1963.41" font-size="6.5" textLength="6.59" lengthAdjust="spacingAndGlyphs" fill="#1a1a1a">80</text>
<line x1="42.7" y1="1924.75" x2="425.5" y2="1924.75" stroke="#4a4a4a" stroke-width="0.9"/>
<text x="26.34" y="1927.45" font-size="7.6" textLength="11.56" lengthAdjust="spacingAndGlyphs" fill="#1a1a1a">500</text>
<text x="429.1" y="1927.06" font-size="6.5" textLength="9.89" lengthAdjust="spacingAndGlyphs" fill="#1a1a1a">100</text>
<line x1="42.7" y1="1888.4" x2="425.5" y2="1888.4" stroke="#4a4a4a" stroke-width="0.9"/>
<text x="26.34" y="1891.1" font-size="7.6" textLength="11.56" lengthAdjust="spacingAndGlyphs" fill="#1a1a1a">600</text>
<text x="429.1" y="1890.71" font-size="6.5" textLength="9.89" lengthAdjust="spacingAndGlyphs" fill="#1a1a1a">120</text>
<line x1="45.2" y1="1888.4" x2="45.2" y2="2109" stroke="#4a4a4a" stroke-width="0.9"/>
<line x1="423" y1="1888.4" x2="423" y2="2109" stroke="#4a4a4a" stroke-width="0.9"/>
<line x1="74.26" y1="2106.5" x2="74.26" y2="2109" stroke="#444" stroke-width="0.6"/>
<line x1="103.32" y1="2106.5" x2="103.32" y2="2109" stroke="#444" stroke-width="0.6"/>
<line x1="132.38" y1="2106.5" x2="132.38" y2="2109" stroke="#444" stroke-width="0.6"/>
<line x1="161.45" y1="2106.5" x2="161.45" y2="2109" stroke="#444" stroke-width="0.6"/>
<line x1="190.51" y1="2106.5" x2="190.51" y2="2109" stroke="#444" stroke-width="0.6"/>
<line x1="219.57" y1="2106.5" x2="219.57" y2="2109" stroke="#444" stroke-width="0.6"/>
<line x1="248.63" y1="2106.5" x2="248.63" y2="2109" stroke="#444" stroke-width="0.6"/>
<line x1="277.69" y1="2106.5" x2="277.69" y2="2109" stroke="#444" stroke-width="0.6"/>
<line x1="306.75" y1="2106.5" x2="306.75" y2="2109" stroke="#444" stroke-width="0.6"/>
<line x1="335.82" y1="2106.5" x2="335.82" y2="2109" stroke="#444" stroke-width="0.6"/>
<line x1="364.88" y1="2106.5" x2="364.88" y2="2109" stroke="#444" stroke-width="0.6"/>
<line x1="393.94" y1="2106.5" x2="393.94" y2="2109" stroke="#444" stroke-width="0.6"/>
<rect x="55.23" y="2079" width="9" height="27.5" fill="#000"/>
<rect x="48.33" y="1982.6" width="4.8" height="123.9" fill="url(#pw)" stroke="#8a8a8a" stroke-width="0.6"/>
<rect x="57.33" y="1986.2" width="4.8" height="120.3" fill="#b9b9b9" stroke="#6e6e6e" stroke-width="0.6"/>
<rect x="66.13" y="1949.3" width="5.5" height="157.2" fill="url(#ph)" stroke="#111" stroke-width="0.35"/>
<rect x="84.29" y="2085.7" width="9" height="20.8" fill="#000"/>
<rect x="77.39" y="1993.3" width="4.8" height="113.2" fill="url(#pw)" stroke="#8a8a8a" stroke-width="0.6"/>
<rect x="86.39" y="1999" width="4.8" height="107.5" fill="#b9b9b9" stroke="#6e6e6e" stroke-width="0.6"/>
<rect x="95.19" y="1984" width="5.5" height="122.5" fill="url(#ph)" stroke="#111" stroke-width="0.35"/>
<rect x="115.45" y="2011.7" width="4.8" height="94.8" fill="#b9b9b9" stroke="#6e6e6e" stroke-width="0.6"/>
<rect x="124.25" y="1989.3" width="5.5" height="117.2" fill="url(#ph)" stroke="#111" stroke-width="0.35"/>
<rect x="144.52" y="1986.7" width="4.8" height="119.8" fill="#b9b9b9" stroke="#6e6e6e" stroke-width="0.6"/>
<rect x="153.32" y="2001" width="5.5" height="105.5" fill="url(#ph)" stroke="#111" stroke-width="0.35"/>
<rect x="173.58" y="2013.3" width="4.8" height="93.2" fill="#b9b9b9" stroke="#6e6e6e" stroke-width="0.6"/>
<rect x="182.38" y="1998.3" width="5.5" height="108.2" fill="url(#ph)" stroke="#111" stroke-width="0.35"/>
<rect x="202.64" y="1987.7" width="4.8" height="118.8" fill="#b9b9b9" stroke="#6e6e6e" stroke-width="0.6"/>
<rect x="211.44" y="1986" width="5.5" height="120.5" fill="url(#ph)" stroke="#111" stroke-width="0.35"/>
<rect x="231.7" y="1997.3" width="4.8" height="109.2" fill="#b9b9b9" stroke="#6e6e6e" stroke-width="0.6"/>
<rect x="240.5" y="2000.7" width="5.5" height="105.8" fill="url(#ph)" stroke="#111" stroke-width="0.35"/>
<rect x="260.76" y="1976.7" width="4.8" height="129.8" fill="#b9b9b9" stroke="#6e6e6e" stroke-width="0.6"/>
<rect x="269.56" y="1970.7" width="5.5" height="135.8" fill="url(#ph)" stroke="#111" stroke-width="0.35"/>
<rect x="289.82" y="1962.7" width="4.8" height="143.8" fill="#b9b9b9" stroke="#6e6e6e" stroke-width="0.6"/>
<rect x="298.62" y="1987.7" width="5.5" height="118.8" fill="url(#ph)" stroke="#111" stroke-width="0.35"/>
<rect x="318.88" y="1922.7" width="4.8" height="183.8" fill="#b9b9b9" stroke="#6e6e6e" stroke-width="0.6"/>
<rect x="327.68" y="1940.3" width="5.5" height="166.2" fill="url(#ph)" stroke="#111" stroke-width="0.35"/>
<rect x="347.95" y="1939" width="4.8" height="167.5" fill="#b9b9b9" stroke="#6e6e6e" stroke-width="0.6"/>
<rect x="356.75" y="1956.7" width="5.5" height="149.8" fill="url(#ph)" stroke="#111" stroke-width="0.35"/>
<rect x="377.01" y="1960" width="4.8" height="146.5" fill="#b9b9b9" stroke="#6e6e6e" stroke-width="0.6"/>
<rect x="385.81" y="1962.7" width="5.5" height="143.8" fill="url(#ph)" stroke="#111" stroke-width="0.35"/>
<rect x="406.07" y="1982.8" width="4.8" height="123.7" fill="#b9b9b9" stroke="#6e6e6e" stroke-width="0.6"/>
<rect x="414.87" y="1986.2" width="5.5" height="120.3" fill="url(#ph)" stroke="#111" stroke-width="0.35"/>
<path d="M59.73 2050 L88.79 2023.9" fill="none" stroke="#000" stroke-width="0.9" stroke-dasharray="3 1.5 0.8 1.5"/>
<path d="M59.73 2043.5 L88.79 2012.3" fill="none" stroke="#000" stroke-width="0.9" stroke-dasharray="6 3"/>
<path d="M59.73 2048.5 L88.79 2017.8 L117.85 1994.3 L146.92 1973.3 L175.98 2021 L205.04 1951.7 L234.1 1962.3 L263.16 1920.7 L292.22 1951.7 L321.28 1934 L350.35 1957.3 L379.41 1949.3 L408.47 1934" fill="none" stroke="#000" stroke-width="1" stroke-dasharray="3.2 2.2"/>
<path d="M59.73 2058.6 L88.79 2030.5 L117.85 2011.7 L146.92 1996.7 L175.98 2001.7 L205.04 1980.7 L234.1 1988.3 L263.16 1965.8 L292.22 1980.5 L321.28 1968.3 L350.35 1982.3 L379.41 1977.5 L408.47 1962.7" fill="none" stroke="#000" stroke-width="1.1" stroke-dasharray="1.1 1.5"/>
<path d="M59.73 2041.1l2.2 4h-4.4z" fill="#222"/>
<path d="M88.79 2009.9l2.2 4h-4.4z" fill="#222"/>
<rect x="57.73" y="2048" width="4" height="4" fill="#000"/>
<rect x="86.79" y="2021.9" width="4" height="4" fill="#000"/>
<path d="M57.13 2048.5l2.6 -2.6l2.6 2.6l-2.6 2.6z" fill="#000"/>
<path d="M86.19 2017.8l2.6 -2.6l2.6 2.6l-2.6 2.6z" fill="#000"/>
<path d="M115.25 1994.3l2.6 -2.6l2.6 2.6l-2.6 2.6z" fill="#000"/>
<path d="M144.32 1973.3l2.6 -2.6l2.6 2.6l-2.6 2.6z" fill="#000"/>
<path d="M173.38 2021l2.6 -2.6l2.6 2.6l-2.6 2.6z" fill="#000"/>
<path d="M202.44 1951.7l2.6 -2.6l2.6 2.6l-2.6 2.6z" fill="#000"/>
<path d="M231.5 1962.3l2.6 -2.6l2.6 2.6l-2.6 2.6z" fill="#000"/>
<path d="M260.56 1920.7l2.6 -2.6l2.6 2.6l-2.6 2.6z" fill="#000"/>
<path d="M289.62 1951.7l2.6 -2.6l2.6 2.6l-2.6 2.6z" fill="#000"/>
<path d="M318.68 1934l2.6 -2.6l2.6 2.6l-2.6 2.6z" fill="#000"/>
<path d="M347.75 1957.3l2.6 -2.6l2.6 2.6l-2.6 2.6z" fill="#000"/>
<path d="M376.81 1949.3l2.6 -2.6l2.6 2.6l-2.6 2.6z" fill="#000"/>
<path d="M405.87 1934l2.6 -2.6l2.6 2.6l-2.6 2.6z" fill="#000"/>
<circle cx="59.73" cy="2058.6" r="2" fill="#000"/>
<circle cx="88.79" cy="2030.5" r="2" fill="#000"/>
<circle cx="117.85" cy="2011.7" r="2" fill="#000"/>
<circle cx="146.92" cy="1996.7" r="2" fill="#000"/>
<circle cx="175.98" cy="2001.7" r="2" fill="#000"/>
<circle cx="205.04" cy="1980.7" r="2" fill="#000"/>
<circle cx="234.1" cy="1988.3" r="2" fill="#000"/>
<circle cx="263.16" cy="1965.8" r="2" fill="#000"/>
<circle cx="292.22" cy="1980.5" r="2" fill="#000"/>
<circle cx="321.28" cy="1968.3" r="2" fill="#000"/>
<circle cx="350.35" cy="1982.3" r="2" fill="#000"/>
<circle cx="379.41" cy="1977.5" r="2" fill="#000"/>
<circle cx="408.47" cy="1962.7" r="2" fill="#000"/>
<text x="41.59" y="2118.6" font-size="7.3" textLength="20.24" lengthAdjust="spacingAndGlyphs" fill="#1a1a1a" transform="rotate(-40 61.83 2118.6)">1-3 Yrs</text>
<text x="70.65" y="2118.6" font-size="7.3" textLength="20.24" lengthAdjust="spacingAndGlyphs" fill="#1a1a1a" transform="rotate(-40 90.89 2118.6)">4-6 Yrs</text>
<text x="99.71" y="2118.6" font-size="7.3" textLength="20.24" lengthAdjust="spacingAndGlyphs" fill="#1a1a1a" transform="rotate(-40 119.95 2118.6)">7-9 Yrs</text>
<text x="114.62" y="2118.6" font-size="7.3" textLength="34.4" lengthAdjust="spacingAndGlyphs" fill="#1a1a1a" transform="rotate(-40 149.02 2118.6)">10-12 BOYS</text>
<text x="142.56" y="2118.6" font-size="7.3" textLength="35.51" lengthAdjust="spacingAndGlyphs" fill="#1a1a1a" transform="rotate(-40 178.08 2118.6)">10-12 GIRLS</text>
<text x="172.74" y="2118.6" font-size="7.3" textLength="34.4" lengthAdjust="spacingAndGlyphs" fill="#1a1a1a" transform="rotate(-40 207.14 2118.6)">13-15 BOYS</text>
<text x="200.69" y="2118.6" font-size="7.3" textLength="35.51" lengthAdjust="spacingAndGlyphs" fill="#1a1a1a" transform="rotate(-40 236.2 2118.6)">13-15 GIRLS</text>
<text x="230.86" y="2118.6" font-size="7.3" textLength="34.4" lengthAdjust="spacingAndGlyphs" fill="#1a1a1a" transform="rotate(-40 265.26 2118.6)">16-17 BOYS</text>
<text x="258.81" y="2118.6" font-size="7.3" textLength="35.51" lengthAdjust="spacingAndGlyphs" fill="#1a1a1a" transform="rotate(-40 294.32 2118.6)">16-17 GIRLS</text>
<text x="308.86" y="2118.6" font-size="7.3" textLength="14.52" lengthAdjust="spacingAndGlyphs" fill="#1a1a1a" transform="rotate(-40 323.38 2118.6)">MEN</text>
<text x="326.6" y="2118.6" font-size="7.3" textLength="25.85" lengthAdjust="spacingAndGlyphs" fill="#1a1a1a" transform="rotate(-40 352.45 2118.6)">WOMEN</text>
<text x="348.39" y="2118.6" font-size="7.3" textLength="33.12" lengthAdjust="spacingAndGlyphs" fill="#1a1a1a" transform="rotate(-40 381.51 2118.6)">PREGNANT</text>
<text x="376.89" y="2118.6" font-size="7.3" textLength="33.68" lengthAdjust="spacingAndGlyphs" fill="#1a1a1a" transform="rotate(-40 410.57 2118.6)">LACTATING</text>
<text x="-22.5" y="1999.73" font-size="7.7" font-weight="bold" textLength="84.8" lengthAdjust="spacingAndGlyphs" fill="#1a1a1a" transform="rotate(-90 19.9 1997)">Cereals &amp; Millets (g/Day)</text>
<text x="397.3" y="1999.73" font-size="7.7" font-weight="bold" textLength="99" lengthAdjust="spacingAndGlyphs" fill="#1a1a1a" transform="rotate(-90 446.8 1997)">Milk &amp; Milk Products(G/Day)</text>
<rect x="29.1" y="2143.5" width="16.3" height="4" fill="#000"/>
<text x="48.3" y="2148.27" font-size="7.8" textLength="95.7" lengthAdjust="spacingAndGlyphs" fill="#1a1a1a">MILK &amp; M.PRODUCTS 1975-79</text>
<rect x="174.5" y="2143.6" width="16.3" height="3.8" fill="url(#pw)" stroke="#777" stroke-width="0.6"/>
<text x="193.3" y="2148.27" font-size="7.8" textLength="96" lengthAdjust="spacingAndGlyphs" fill="#1a1a1a">MILK &amp; M.PRODUCTS 1988-90</text>
<rect x="319.5" y="2143.6" width="16.3" height="3.8" fill="#b9b9b9" stroke="#555" stroke-width="0.6"/>
<text x="338.7" y="2148.27" font-size="7.8" textLength="96.3" lengthAdjust="spacingAndGlyphs" fill="#1a1a1a">MILK &amp; M.PRODUCTS 1996-97</text>
<rect x="29.3" y="2155.9" width="16.5" height="4" fill="url(#ph)" stroke="#000" stroke-width="0.4"/>
<text x="48.3" y="2160.67" font-size="7.8" textLength="95.7" lengthAdjust="spacingAndGlyphs" fill="#1a1a1a">MILK &amp; M.PRODUCTS 2011-12</text>
<path d="M174.3 2157.9 L191 2157.9" fill="none" stroke="#000" stroke-width="0.9" stroke-dasharray="3 1.5 0.8 1.5"/>
<rect x="180.6" y="2155.9" width="4" height="4" fill="#000"/>
<text x="193.3" y="2160.67" font-size="7.8" textLength="91" lengthAdjust="spacingAndGlyphs" fill="#1a1a1a">CEREALS &amp; MILLETS 1975-79</text>
<path d="M319.3 2157.9 L329 2157.9" fill="none" stroke="#000" stroke-width="0.9"/>
<path d="M331 2157.9 L336 2157.9" fill="none" stroke="#000" stroke-width="0.9" stroke-dasharray="1 2"/>
<path d="M327.5 2155.5l2.2 4h-4.4z" fill="#222"/>
<text x="338.7" y="2160.67" font-size="7.8" textLength="91.3" lengthAdjust="spacingAndGlyphs" fill="#1a1a1a">CEREALS &amp; MILLETS 1988-90</text>
<path d="M29.3 2169.8 L45.5 2169.8" fill="none" stroke="#000" stroke-width="1" stroke-dasharray="3.2 2.8"/>
<path d="M34.7 2169.8l2.6 -2.6l2.6 2.6l-2.6 2.6z" fill="#000"/>
<text x="48.3" y="2172.57" font-size="7.8" textLength="90" lengthAdjust="spacingAndGlyphs" fill="#1a1a1a">CEREALS &amp; MILLETS 1996-97</text>
<path d="M174.3 2169.8 L191 2169.8" fill="none" stroke="#000" stroke-width="1.1" stroke-dasharray="1.1 1.5"/>
<circle cx="182.6" cy="2169.8" r="2" fill="#000"/>
<text x="193.3" y="2172.57" font-size="7.8" textLength="91" lengthAdjust="spacingAndGlyphs" fill="#1a1a1a">CEREALS &amp; MILLETS 2011-12</text>
<rect x="418.6" y="2167" width="41.9" height="17" fill="#fff" stroke="#333" stroke-width="0.9"/>
<text x="436.51" y="2178.8" font-size="9.3" font-weight="bold" textLength="6.07" lengthAdjust="spacingAndGlyphs" fill="#1a1a1a">G</text>
</g>
<g>
<rect x="4" y="2205" width="454.5" height="290.7" fill="#fff" stroke="#686868" stroke-width="0.8"/>
<line x1="67.4" y1="2211.5" x2="67.4" y2="2480.1" stroke="#4a4a4a" stroke-width="0.9"/>
<text x="65.5" y="2491.26" font-size="7.5" textLength="3.8" lengthAdjust="spacingAndGlyphs" fill="#1a1a1a">0</text>
<line x1="130.5" y1="2211.5" x2="130.5" y2="2482.6" stroke="#4a4a4a" stroke-width="0.9"/>
<text x="126.7" y="2491.26" font-size="7.5" textLength="7.61" lengthAdjust="spacingAndGlyphs" fill="#1a1a1a">20</text>
<line x1="193.6" y1="2211.5" x2="193.6" y2="2482.6" stroke="#4a4a4a" stroke-width="0.9"/>
<text x="189.8" y="2491.26" font-size="7.5" textLength="7.61" lengthAdjust="spacingAndGlyphs" fill="#1a1a1a">40</text>
<line x1="256.7" y1="2211.5" x2="256.7" y2="2482.6" stroke="#4a4a4a" stroke-width="0.9"/>
<text x="252.9" y="2491.26" font-size="7.5" textLength="7.61" lengthAdjust="spacingAndGlyphs" fill="#1a1a1a">60</text>
<line x1="319.8" y1="2211.5" x2="319.8" y2="2482.6" stroke="#4a4a4a" stroke-width="0.9"/>
<text x="316" y="2491.26" font-size="7.5" textLength="7.61" lengthAdjust="spacingAndGlyphs" fill="#1a1a1a">80</text>
<line x1="382.9" y1="2211.5" x2="382.9" y2="2482.6" stroke="#4a4a4a" stroke-width="0.9"/>
<text x="377.2" y="2491.26" font-size="7.5" textLength="11.41" lengthAdjust="spacingAndGlyphs" fill="#1a1a1a">100</text>
<line x1="446" y1="2211.5" x2="446" y2="2482.6" stroke="#4a4a4a" stroke-width="0.9"/>
<text x="440.3" y="2491.26" font-size="7.5" textLength="11.41" lengthAdjust="spacingAndGlyphs" fill="#1a1a1a">120</text>
<line x1="67.4" y1="2480.1" x2="446" y2="2480.1" stroke="#4a4a4a" stroke-width="0.9"/>
<line x1="6.8" y1="2211.5" x2="67.4" y2="2211.5" stroke="#666" stroke-width="0.8"/>
<text x="35.11" y="2218.86" font-size="7.7" textLength="25.78" lengthAdjust="spacingAndGlyphs" fill="#1a1a1a">2011-12</text>
<rect x="67.4" y="2214.03" width="147.9" height="4.2" fill="#000"/>
<line x1="33.9" y1="2220.76" x2="67.4" y2="2220.76" stroke="#555" stroke-width="0.8"/>
<text x="35.11" y="2228.13" font-size="7.7" textLength="25.78" lengthAdjust="spacingAndGlyphs" fill="#1a1a1a">1996-97</text>
<rect x="67.4" y="2223.29" width="220.9" height="4.2" fill="#000"/>
<line x1="33.9" y1="2230.02" x2="67.4" y2="2230.02" stroke="#555" stroke-width="0.8"/>
<text x="35.11" y="2237.39" font-size="7.7" textLength="25.78" lengthAdjust="spacingAndGlyphs" fill="#1a1a1a">1988-90</text>
<rect x="67.4" y="2232.56" width="305.3" height="4.2" fill="#000"/>
<line x1="33.9" y1="2239.29" x2="67.4" y2="2239.29" stroke="#555" stroke-width="0.8"/>
<text x="35.11" y="2246.65" font-size="7.7" textLength="25.78" lengthAdjust="spacingAndGlyphs" fill="#1a1a1a">1975-79</text>
<rect x="67.4" y="2241.82" width="241.9" height="4.2" fill="#000"/>
<text x="-0.18" y="2232.47" font-size="6.9" textLength="25.96" lengthAdjust="spacingAndGlyphs" fill="#1a1a1a" transform="rotate(-90 12.8 2230.02)">SUGAR &amp;</text>
<text x="9.91" y="2232.47" font-size="6.9" textLength="25.38" lengthAdjust="spacingAndGlyphs" fill="#1a1a1a" transform="rotate(-90 22.6 2230.02)">JAGGERY</text>
<line x1="6.8" y1="2248.55" x2="67.4" y2="2248.55" stroke="#666" stroke-width="0.8"/>
<line x1="33.9" y1="2257.81" x2="67.4" y2="2257.81" stroke="#555" stroke-width="0.8"/>
<text x="35.11" y="2265.17" font-size="7.7" textLength="25.78" lengthAdjust="spacingAndGlyphs" fill="#1a1a1a">2011-12</text>
<rect x="67.4" y="2260.34" width="198.6" height="4.2" fill="#000"/>
<line x1="33.9" y1="2267.07" x2="67.4" y2="2267.07" stroke="#555" stroke-width="0.8"/>
<text x="35.11" y="2274.44" font-size="7.7" textLength="25.78" lengthAdjust="spacingAndGlyphs" fill="#1a1a1a">1996-97</text>
<rect x="67.4" y="2269.6" width="189.6" height="4.2" fill="#000"/>
<line x1="33.9" y1="2276.33" x2="67.4" y2="2276.33" stroke="#555" stroke-width="0.8"/>
<text x="35.11" y="2283.7" font-size="7.7" textLength="25.78" lengthAdjust="spacingAndGlyphs" fill="#1a1a1a">1988-90</text>
<rect x="67.4" y="2278.87" width="205.3" height="4.2" fill="#000"/>
<line x1="33.9" y1="2285.6" x2="67.4" y2="2285.6" stroke="#555" stroke-width="0.8"/>
<text x="35.11" y="2292.96" font-size="7.7" textLength="25.78" lengthAdjust="spacingAndGlyphs" fill="#1a1a1a">1975-79</text>
<rect x="67.4" y="2288.13" width="220.9" height="4.2" fill="#000"/>
<text x="4.96" y="2274.15" font-size="6.9" textLength="33.89" lengthAdjust="spacingAndGlyphs" fill="#1a1a1a" transform="rotate(-90 21.9 2271.7)">FATS &amp; OILS</text>
<line x1="6.8" y1="2294.86" x2="67.4" y2="2294.86" stroke="#666" stroke-width="0.8"/>
<line x1="33.9" y1="2304.12" x2="67.4" y2="2304.12" stroke="#555" stroke-width="0.8"/>
<text x="35.11" y="2311.49" font-size="7.7" textLength="25.78" lengthAdjust="spacingAndGlyphs" fill="#1a1a1a">2011-12</text>
<rect x="67.4" y="2306.65" width="198.6" height="4.2" fill="#000"/>
<line x1="33.9" y1="2313.38" x2="67.4" y2="2313.38" stroke="#555" stroke-width="0.8"/>
<text x="35.11" y="2320.75" font-size="7.7" textLength="25.78" lengthAdjust="spacingAndGlyphs" fill="#1a1a1a">1996-97</text>
<rect x="67.4" y="2315.91" width="180.3" height="4.2" fill="#000"/>
<line x1="33.9" y1="2322.64" x2="67.4" y2="2322.64" stroke="#555" stroke-width="0.8"/>
<text x="35.11" y="2330.01" font-size="7.7" textLength="25.78" lengthAdjust="spacingAndGlyphs" fill="#1a1a1a">1988-90</text>
<rect x="67.4" y="2325.18" width="192.6" height="4.2" fill="#000"/>
<line x1="33.9" y1="2331.91" x2="67.4" y2="2331.91" stroke="#555" stroke-width="0.8"/>
<text x="35.11" y="2339.27" font-size="7.7" textLength="25.78" lengthAdjust="spacingAndGlyphs" fill="#1a1a1a">1975-79</text>
<rect x="67.4" y="2334.44" width="242.6" height="4.2" fill="#000"/>
<text x="2.61" y="2320.46" font-size="6.9" textLength="20.39" lengthAdjust="spacingAndGlyphs" fill="#1a1a1a" transform="rotate(-90 12.8 2318.01)">MILK &amp;</text>
<text x="3.4" y="2320.46" font-size="6.9" textLength="38.4" lengthAdjust="spacingAndGlyphs" fill="#1a1a1a" transform="rotate(-90 22.6 2318.01)">M.PRODUCTS</text>
<line x1="6.8" y1="2341.17" x2="67.4" y2="2341.17" stroke="#666" stroke-width="0.8"/>
<line x1="33.9" y1="2350.43" x2="67.4" y2="2350.43" stroke="#555" stroke-width="0.8"/>
<text x="35.11" y="2357.8" font-size="7.7" textLength="25.78" lengthAdjust="spacingAndGlyphs" fill="#1a1a1a">2011-12</text>
<rect x="67.4" y="2352.96" width="126.1" height="4.2" fill="#000"/>
<line x1="33.9" y1="2359.69" x2="67.4" y2="2359.69" stroke="#555" stroke-width="0.8"/>
<text x="35.11" y="2367.06" font-size="7.7" textLength="25.78" lengthAdjust="spacingAndGlyphs" fill="#1a1a1a">1996-97</text>
<rect x="67.4" y="2362.22" width="118.6" height="4.2" fill="#000"/>
<line x1="33.9" y1="2368.96" x2="67.4" y2="2368.96" stroke="#555" stroke-width="0.8"/>
<text x="35.11" y="2376.32" font-size="7.7" textLength="25.78" lengthAdjust="spacingAndGlyphs" fill="#1a1a1a">1988-90</text>
<rect x="67.4" y="2371.49" width="70.9" height="4.2" fill="#000"/>
<line x1="33.9" y1="2378.22" x2="67.4" y2="2378.22" stroke="#555" stroke-width="0.8"/>
<text x="35.11" y="2385.58" font-size="7.7" textLength="25.78" lengthAdjust="spacingAndGlyphs" fill="#1a1a1a">1975-79</text>
<rect x="67.4" y="2380.75" width="63.3" height="4.2" fill="#000"/>
<text x="16.32" y="2366.77" font-size="6.9" textLength="11.16" lengthAdjust="spacingAndGlyphs" fill="#1a1a1a" transform="rotate(-90 21.9 2364.32)">GLV</text>
<line x1="6.8" y1="2387.48" x2="67.4" y2="2387.48" stroke="#666" stroke-width="0.8"/>
<line x1="33.9" y1="2396.74" x2="67.4" y2="2396.74" stroke="#555" stroke-width="0.8"/>
<text x="35.11" y="2404.11" font-size="7.7" textLength="25.78" lengthAdjust="spacingAndGlyphs" fill="#1a1a1a">2011-12</text>
<rect x="67.4" y="2399.27" width="260.1" height="4.2" fill="#000"/>
<line x1="33.9" y1="2406" x2="67.4" y2="2406" stroke="#555" stroke-width="0.8"/>
<text x="35.11" y="2413.37" font-size="7.7" textLength="25.78" lengthAdjust="spacingAndGlyphs" fill="#1a1a1a">1996-97</text>
<rect x="67.4" y="2408.53" width="213.4" height="4.2" fill="#000"/>
<line x1="33.9" y1="2415.27" x2="67.4" y2="2415.27" stroke="#555" stroke-width="0.8"/>
<text x="35.11" y="2422.63" font-size="7.7" textLength="25.78" lengthAdjust="spacingAndGlyphs" fill="#1a1a1a">1988-90</text>
<rect x="67.4" y="2417.8" width="268.6" height="4.2" fill="#000"/>
<line x1="33.9" y1="2424.53" x2="67.4" y2="2424.53" stroke="#555" stroke-width="0.8"/>
<text x="35.11" y="2431.89" font-size="7.7" textLength="25.78" lengthAdjust="spacingAndGlyphs" fill="#1a1a1a">1975-79</text>
<rect x="67.4" y="2427.06" width="252.9" height="4.2" fill="#000"/>
<text x="11.6" y="2413.08" font-size="6.9" textLength="20.6" lengthAdjust="spacingAndGlyphs" fill="#1a1a1a" transform="rotate(-90 21.9 2410.63)">PULSES</text>
<line x1="6.8" y1="2433.79" x2="67.4" y2="2433.79" stroke="#666" stroke-width="0.8"/>
<line x1="33.9" y1="2443.05" x2="67.4" y2="2443.05" stroke="#555" stroke-width="0.8"/>
<text x="35.11" y="2450.42" font-size="7.7" textLength="25.78" lengthAdjust="spacingAndGlyphs" fill="#1a1a1a">2011-12</text>
<rect x="67.4" y="2445.58" width="252.9" height="4.2" fill="#000"/>
<line x1="33.9" y1="2452.31" x2="67.4" y2="2452.31" stroke="#555" stroke-width="0.8"/>
<text x="35.11" y="2459.68" font-size="7.7" textLength="25.78" lengthAdjust="spacingAndGlyphs" fill="#1a1a1a">1996-97</text>
<rect x="67.4" y="2454.84" width="309.4" height="4.2" fill="#000"/>
<line x1="33.9" y1="2461.58" x2="67.4" y2="2461.58" stroke="#555" stroke-width="0.8"/>
<text x="35.11" y="2468.94" font-size="7.7" textLength="25.78" lengthAdjust="spacingAndGlyphs" fill="#1a1a1a">1988-90</text>
<rect x="67.4" y="2464.11" width="322" height="4.2" fill="#000"/>
<line x1="33.9" y1="2470.84" x2="67.4" y2="2470.84" stroke="#555" stroke-width="0.8"/>
<text x="35.11" y="2478.2" font-size="7.7" textLength="25.78" lengthAdjust="spacingAndGlyphs" fill="#1a1a1a">1975-79</text>
<rect x="67.4" y="2473.37" width="346.9" height="4.2" fill="#000"/>
<text x="-2.44" y="2459.39" font-size="6.9" textLength="30.48" lengthAdjust="spacingAndGlyphs" fill="#1a1a1a" transform="rotate(-90 12.8 2456.94)">CEREALS &amp;</text>
<text x="10.94" y="2459.39" font-size="6.9" textLength="23.33" lengthAdjust="spacingAndGlyphs" fill="#1a1a1a" transform="rotate(-90 22.6 2456.94)">MILLETS</text>
<line x1="6.8" y1="2480.1" x2="67.4" y2="2480.1" stroke="#666" stroke-width="0.8"/>
<rect x="404.3" y="2447.3" width="42.7" height="16" fill="#fff" stroke="#555" stroke-width="0.8"/>
<text x="422.7" y="2458.8" font-size="9" font-weight="bold" textLength="5.8" lengthAdjust="spacingAndGlyphs" fill="#1a1a1a">H</text>
</g>
</svg></body></html>
